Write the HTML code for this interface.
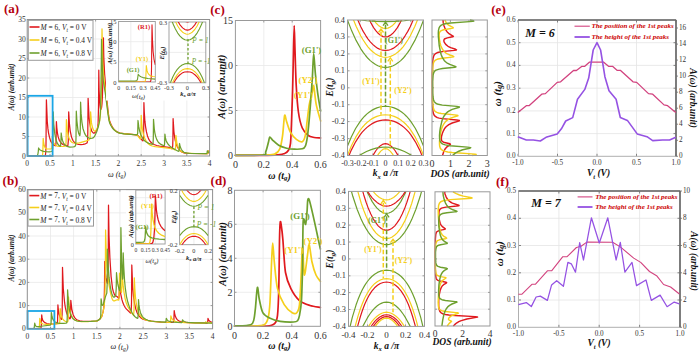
<!DOCTYPE html><html><head><meta charset="utf-8"><style>html,body{margin:0;padding:0;background:#fff;width:700px;height:355px;overflow:hidden}svg{display:block}</style></head><body>
<svg width="700" height="355" viewBox="0 0 700 355">
<rect width="700" height="355" fill="#fff"/>
<text x="11.5" y="8.5" font-family="Liberation Serif" font-size="13" font-weight="bold" font-style="normal" fill="#b5000f" text-anchor="middle" dominant-baseline="central" >(a)</text>
<line x1="50" y1="19.5" x2="50" y2="156" stroke="#e9e9e9" stroke-width="0.8" />
<line x1="72.8" y1="19.5" x2="72.8" y2="156" stroke="#e9e9e9" stroke-width="0.8" />
<line x1="95.6" y1="19.5" x2="95.6" y2="156" stroke="#e9e9e9" stroke-width="0.8" />
<line x1="118.4" y1="19.5" x2="118.4" y2="156" stroke="#e9e9e9" stroke-width="0.8" />
<line x1="141.2" y1="19.5" x2="141.2" y2="156" stroke="#e9e9e9" stroke-width="0.8" />
<line x1="164" y1="19.5" x2="164" y2="156" stroke="#e9e9e9" stroke-width="0.8" />
<line x1="186.8" y1="19.5" x2="186.8" y2="156" stroke="#e9e9e9" stroke-width="0.8" />
<line x1="27.2" y1="136.5" x2="209.6" y2="136.5" stroke="#e9e9e9" stroke-width="0.8" />
<line x1="27.2" y1="117" x2="209.6" y2="117" stroke="#e9e9e9" stroke-width="0.8" />
<line x1="27.2" y1="97.5" x2="209.6" y2="97.5" stroke="#e9e9e9" stroke-width="0.8" />
<line x1="27.2" y1="78" x2="209.6" y2="78" stroke="#e9e9e9" stroke-width="0.8" />
<line x1="27.2" y1="58.5" x2="209.6" y2="58.5" stroke="#e9e9e9" stroke-width="0.8" />
<line x1="27.2" y1="39" x2="209.6" y2="39" stroke="#e9e9e9" stroke-width="0.8" />
<line x1="50" y1="156" x2="50" y2="154" stroke="#777" stroke-width="0.7" />
<line x1="50" y1="19.5" x2="50" y2="21.5" stroke="#777" stroke-width="0.7" />
<line x1="72.8" y1="156" x2="72.8" y2="154" stroke="#777" stroke-width="0.7" />
<line x1="72.8" y1="19.5" x2="72.8" y2="21.5" stroke="#777" stroke-width="0.7" />
<line x1="95.6" y1="156" x2="95.6" y2="154" stroke="#777" stroke-width="0.7" />
<line x1="95.6" y1="19.5" x2="95.6" y2="21.5" stroke="#777" stroke-width="0.7" />
<line x1="118.4" y1="156" x2="118.4" y2="154" stroke="#777" stroke-width="0.7" />
<line x1="118.4" y1="19.5" x2="118.4" y2="21.5" stroke="#777" stroke-width="0.7" />
<line x1="141.2" y1="156" x2="141.2" y2="154" stroke="#777" stroke-width="0.7" />
<line x1="141.2" y1="19.5" x2="141.2" y2="21.5" stroke="#777" stroke-width="0.7" />
<line x1="164" y1="156" x2="164" y2="154" stroke="#777" stroke-width="0.7" />
<line x1="164" y1="19.5" x2="164" y2="21.5" stroke="#777" stroke-width="0.7" />
<line x1="186.8" y1="156" x2="186.8" y2="154" stroke="#777" stroke-width="0.7" />
<line x1="186.8" y1="19.5" x2="186.8" y2="21.5" stroke="#777" stroke-width="0.7" />
<line x1="27.2" y1="136.5" x2="29.2" y2="136.5" stroke="#777" stroke-width="0.7" />
<line x1="209.6" y1="136.5" x2="207.6" y2="136.5" stroke="#777" stroke-width="0.7" />
<line x1="27.2" y1="117" x2="29.2" y2="117" stroke="#777" stroke-width="0.7" />
<line x1="209.6" y1="117" x2="207.6" y2="117" stroke="#777" stroke-width="0.7" />
<line x1="27.2" y1="97.5" x2="29.2" y2="97.5" stroke="#777" stroke-width="0.7" />
<line x1="209.6" y1="97.5" x2="207.6" y2="97.5" stroke="#777" stroke-width="0.7" />
<line x1="27.2" y1="78" x2="29.2" y2="78" stroke="#777" stroke-width="0.7" />
<line x1="209.6" y1="78" x2="207.6" y2="78" stroke="#777" stroke-width="0.7" />
<line x1="27.2" y1="58.5" x2="29.2" y2="58.5" stroke="#777" stroke-width="0.7" />
<line x1="209.6" y1="58.5" x2="207.6" y2="58.5" stroke="#777" stroke-width="0.7" />
<line x1="27.2" y1="39" x2="29.2" y2="39" stroke="#777" stroke-width="0.7" />
<line x1="209.6" y1="39" x2="207.6" y2="39" stroke="#777" stroke-width="0.7" />
<text x="25.7" y="156" font-family="Liberation Serif" font-size="7.5" font-weight="normal" font-style="normal" fill="#333" text-anchor="end" dominant-baseline="central" >0</text>
<text x="25.7" y="136.5" font-family="Liberation Serif" font-size="7.5" font-weight="normal" font-style="normal" fill="#333" text-anchor="end" dominant-baseline="central" >5</text>
<text x="25.7" y="117" font-family="Liberation Serif" font-size="7.5" font-weight="normal" font-style="normal" fill="#333" text-anchor="end" dominant-baseline="central" >10</text>
<text x="25.7" y="97.5" font-family="Liberation Serif" font-size="7.5" font-weight="normal" font-style="normal" fill="#333" text-anchor="end" dominant-baseline="central" >15</text>
<text x="25.7" y="78" font-family="Liberation Serif" font-size="7.5" font-weight="normal" font-style="normal" fill="#333" text-anchor="end" dominant-baseline="central" >20</text>
<text x="25.7" y="58.5" font-family="Liberation Serif" font-size="7.5" font-weight="normal" font-style="normal" fill="#333" text-anchor="end" dominant-baseline="central" >25</text>
<text x="25.7" y="39" font-family="Liberation Serif" font-size="7.5" font-weight="normal" font-style="normal" fill="#333" text-anchor="end" dominant-baseline="central" >30</text>
<text x="25.7" y="19.5" font-family="Liberation Serif" font-size="7.5" font-weight="normal" font-style="normal" fill="#333" text-anchor="end" dominant-baseline="central" >35</text>
<text x="27.2" y="163.5" font-family="Liberation Serif" font-size="7.5" font-weight="normal" font-style="normal" fill="#333" text-anchor="middle" dominant-baseline="central" >0</text>
<text x="50" y="163.5" font-family="Liberation Serif" font-size="7.5" font-weight="normal" font-style="normal" fill="#333" text-anchor="middle" dominant-baseline="central" >0.5</text>
<text x="72.8" y="163.5" font-family="Liberation Serif" font-size="7.5" font-weight="normal" font-style="normal" fill="#333" text-anchor="middle" dominant-baseline="central" >1</text>
<text x="95.6" y="163.5" font-family="Liberation Serif" font-size="7.5" font-weight="normal" font-style="normal" fill="#333" text-anchor="middle" dominant-baseline="central" >1.5</text>
<text x="118.4" y="163.5" font-family="Liberation Serif" font-size="7.5" font-weight="normal" font-style="normal" fill="#333" text-anchor="middle" dominant-baseline="central" >2</text>
<text x="141.2" y="163.5" font-family="Liberation Serif" font-size="7.5" font-weight="normal" font-style="normal" fill="#333" text-anchor="middle" dominant-baseline="central" >2.5</text>
<text x="164" y="163.5" font-family="Liberation Serif" font-size="7.5" font-weight="normal" font-style="normal" fill="#333" text-anchor="middle" dominant-baseline="central" >3</text>
<text x="186.8" y="163.5" font-family="Liberation Serif" font-size="7.5" font-weight="normal" font-style="normal" fill="#333" text-anchor="middle" dominant-baseline="central" >3.5</text>
<text x="209.6" y="163.5" font-family="Liberation Serif" font-size="7.5" font-weight="normal" font-style="normal" fill="#333" text-anchor="middle" dominant-baseline="central" >4</text>
<text x="11.3" y="87" font-family="Liberation Serif" font-size="7.5" font-weight="bold" font-style="italic" fill="#111" text-anchor="middle" dominant-baseline="central" transform="rotate(-90 11.3 87)" >A(ω) (arb.unit)</text>
<text x="117" y="174" font-family="Liberation Serif" font-size="8" font-weight="normal" font-style="italic" fill="#222" text-anchor="middle" dominant-baseline="central" >ω (<tspan font-style="italic">t</tspan><tspan font-size="5.5" dy="2">g</tspan><tspan dy="-2">)</tspan></text>
<clipPath id="cp1"><rect x="27.2" y="19.5" width="182.4" height="136.5"/></clipPath>
<polyline points="27.2,156 44.6,156 45,155.8 45.4,155.3 45.8,151.8 46,144.7 46.4,99.8 47.3,121.7 47.9,128.4 48.5,132.8 49.5,137.4 50.7,141.1 52.1,143.5 54,145.2 55.2,145.8 55.6,145.6 56,143.4 56.4,121.7 56.8,127.6 57.4,132.8 58.2,136.9 59.4,140.5 60.8,142.7 62.9,144.5 64.5,145.2 66.5,145.7 67.5,145.8 67.9,145.4 68.3,141.1 68.7,111.9 69.4,123.6 70.2,130.8 71.4,136.6 72.2,138.9 73,140.5 74.2,142.2 75.4,143.2 76.9,144 78.7,144.5 80.9,144.6 83.1,144.4 85.4,143.8 87,143 87.4,141.8 87.6,139.6 87.8,133.1 88.1,98.3 89,116.6 89.6,122.3 90.4,127 91.6,130.8 92.3,131.9 93.1,132.8 93.7,133.2 94.3,133.1 95.1,132.5 95.9,131.4 96.9,129.6 97.5,128 98.1,123.4 98.5,107.4 98.8,70.2 99.1,89.8 99.6,100 100,105.4 100.4,108.2 100.6,109 100.8,109.4 101,109.4 101.6,107.4 102,103.8 102.4,96.7 102.8,82.8 103.4,37.8 103.8,57.3 104.6,73.9 106.2,93.4 108.1,111.4 108.9,117.5 109.7,121.3 111.7,125.9 112.9,127.9 114.3,129.6 115.8,131 117.2,131.9 118.6,132.6 120.2,133.1 123.9,133.7 134.2,134.6 137,135.1 138.5,136.1 142.5,140.6 142.9,140.9 143.1,140.8 143.5,137.4 143.7,128.9 143.9,102.6 144.3,112.4 144.9,121.2 145.6,126.8 146.4,131.7 147.4,135.7 148.6,138.9 150.2,141.5 152,143.3 154.1,144.5 156.7,145.5 159.5,146.1 168.7,147.4 170.1,147.9 171.9,148.8 172.3,148.7 172.7,146 172.9,139.3 173.1,118.6 173.9,131.2 174.5,136.3 175.3,140.8 176.4,144.4 177.4,146.9 178.6,148.8 180.2,150.7 181.8,151.9 183.7,152.8 185.7,153.1 188.9,153.4 207.4,153.6 207.8,153.4 208,153 208.2,150.9 208.8,151.8 209.6,152.4" fill="none" stroke="#e0191e" stroke-width="1.25" stroke-linejoin="round" clip-path="url(#cp1)"/>
<polyline points="27.2,156 41,156 42.2,155.6 42.6,154.8 42.8,153 43.2,138.4 43.6,142.5 44.4,146.1 45.4,148.1 46.7,148.9 47.9,149 50.9,148.8 51.5,148.6 51.7,148.2 52.1,143.4 52.3,136.5 52.7,139.6 53.5,142.5 54.4,144 55.6,145.3 57.2,146.1 59.2,146.5 63.3,146.3 65.1,146.1 65.5,145.9 65.9,144.4 66.1,141.1 66.4,119.7 67.3,130.7 68.5,136.7 69.6,139.4 70.6,141 71.8,142.2 73.4,143 76,143.3 79.3,142.8 86.4,140.8 88.8,139.9 89.6,139.4 90,138 90.2,135.3 90.6,111.9 91.4,122.4 92.1,126 92.9,128.8 93.7,130.4 94.1,130.8 94.7,131.1 95.7,130.7 96.9,129.3 98.3,125.6 99.6,120.9 100.4,114.9 100.8,108.7 101.2,97.1 101.6,74.5 102,28.9 102.8,61.8 103.4,72.1 104.2,80.4 107.9,111.5 109.1,119.8 109.7,122.2 110.7,124.5 112.1,127 113.7,129.2 115.2,130.6 116.6,131.7 118.2,132.5 119.8,133.1 123.9,133.7 134,134.6 136.8,135 137.9,135.8 140.1,138.9 140.5,139 140.9,135.4 141.2,115.4 141.7,123 142.3,128.4 143.1,133 143.9,136.1 145.2,139.4 146.4,141.5 148.2,143.7 150,145.1 152.2,146 155.1,146.7 169.9,148.4 173.3,149 174.7,149.8 175.1,149.8 175.6,147.5 175.9,135.3 176.8,142.6 178,147.2 178.8,149 179.6,150.2 181.6,151.7 183.7,152.5 186.3,153 195,153.5 207.4,153.6 207.8,153.4 208,153 208.2,150.9 208.8,151.8 209.6,152.4" fill="none" stroke="#f5cf1b" stroke-width="1.25" stroke-linejoin="round" clip-path="url(#cp1)"/>
<polyline points="27.2,156 36.1,156 36.9,155.8 37.5,155.1 37.9,154.1 38.3,151.5 38.6,148 39.2,149.2 39.8,149.8 41.6,150.7 43.4,151.3 46.3,151.7 49.1,151.8 51.7,151.5 52.3,151.1 52.7,148.1 52.9,141.5 53.2,111.9 53.7,123.7 54.8,133.9 56,139.8 56.8,142.1 57.8,144 58.8,145.3 59.8,146.1 60.4,146.2 60.6,145.8 61,139.8 61.2,133 61.7,136.9 62.5,140.5 63.7,143.4 65.1,145.1 67.1,146.4 69.8,147.1 73,147 74.4,146.6 75.2,146.1 75.6,145.2 75.8,143.3 76,137.9 76.3,111.2 76.9,121.1 77.9,129.8 78.7,133.3 79.5,135.4 79.7,135.6 79.9,135.3 80.1,133.7 80.3,128.2 80.6,102.2 81.1,113.4 81.9,122.1 82.9,128.2 84.4,132.9 85.4,134.9 86.4,136.3 87.6,137.4 88.8,138 90.4,138.3 92.3,138.1 93.5,137.6 94.5,136.4 96.7,131.8 98.3,126.8 99.6,120.8 100.2,114.5 100.6,106.3 101,90.3 101.5,39.4 102.2,65.4 102.8,75.7 103.4,81.5 105.4,93.9 108.1,114.7 109.1,120.9 109.7,123.1 110.7,125.2 112.1,127.5 113.7,129.5 115.2,130.8 116.6,131.8 118.2,132.6 119.8,133.1 124.1,133.8 137.2,134.9 137.7,133.3 138,120.5 138.7,126.4 139.5,130.5 140.7,134.5 142.3,137.7 144.1,140.3 145.8,141.8 148.8,143.4 152.4,144.4 152.9,143.8 153.1,142.5 153.3,138.3 153.5,119.3 154.3,129 154.9,133.1 155.7,136.6 156.7,139.4 157.7,141.3 159.1,143 161,144.4 163.8,145.7 164.2,145.6 164.4,145.2 164.6,143.8 164.9,134.2 165.4,137.7 166,140.2 166.8,142.2 168.1,144.2 169.7,145.9 171.7,147.4 174.9,149.5 178.2,151.2 178.8,151.3 179.2,150.1 179.5,143.5 180.2,146.8 181.4,149.6 183.1,151.6 183.9,152.2 184.9,152.7 187.5,153.2 191.2,153.5 206.4,153.6 207,153.3 207.3,150.9 208.2,152 209.6,152.8" fill="none" stroke="#6ea02e" stroke-width="1.25" stroke-linejoin="round" clip-path="url(#cp1)"/>
<rect x="27.6" y="95.8" width="25" height="60.2" stroke="#1aa6e6" fill="none" stroke-width="1.8"/>
<rect x="106" y="19.5" width="103" height="81" fill="#fff"/>
<line x1="106" y1="19.5" x2="209.6" y2="19.5" stroke="#c8c8c8" stroke-width="1" />
<rect x="28.3" y="20.3" width="64.7" height="40" stroke="#9a9a9a" fill="#fff" stroke-width="1"/>
<line x1="29.5" y1="27" x2="39.5" y2="27" stroke="#e0191e" stroke-width="1.6" />
<text x="40.5" y="27" font-family="Liberation Serif" font-size="7.4" fill="#222" dominant-baseline="central"><tspan font-style="italic">M</tspan> = 6, <tspan font-style="italic">V</tspan><tspan font-style="italic" font-size="5.18" dy="3">t</tspan><tspan dy="-3"> = 0 V</tspan></text>
<line x1="29.5" y1="40" x2="39.5" y2="40" stroke="#f5cf1b" stroke-width="1.6" />
<text x="40.5" y="40" font-family="Liberation Serif" font-size="7.4" fill="#222" dominant-baseline="central"><tspan font-style="italic">M</tspan> = 6, <tspan font-style="italic">V</tspan><tspan font-style="italic" font-size="5.18" dy="3">t</tspan><tspan dy="-3"> = 0.4 V</tspan></text>
<line x1="29.5" y1="53" x2="39.5" y2="53" stroke="#6ea02e" stroke-width="1.6" />
<text x="40.5" y="53" font-family="Liberation Serif" font-size="7.4" fill="#222" dominant-baseline="central"><tspan font-style="italic">M</tspan> = 6, <tspan font-style="italic">V</tspan><tspan font-style="italic" font-size="5.18" dy="3">t</tspan><tspan dy="-3"> = 0.8 V</tspan></text>
<rect x="27.2" y="19.5" width="182.4" height="136.5" stroke="#8f8f8f" fill="none" stroke-width="1"/>
<line x1="130.8" y1="21.5" x2="130.8" y2="82" stroke="#e9e9e9" stroke-width="0.8" />
<line x1="143.1" y1="21.5" x2="143.1" y2="82" stroke="#e9e9e9" stroke-width="0.8" />
<line x1="118.6" y1="61.8" x2="155.3" y2="61.8" stroke="#e9e9e9" stroke-width="0.8" />
<line x1="118.6" y1="41.7" x2="155.3" y2="41.7" stroke="#e9e9e9" stroke-width="0.8" />
<rect x="118.6" y="21.5" width="36.7" height="60.5" stroke="#999" fill="none" stroke-width="0.9"/>
<text x="116.6" y="82" font-family="Liberation Serif" font-size="6.5" font-weight="normal" font-style="normal" fill="#333" text-anchor="end" dominant-baseline="central" >0</text>
<text x="116.6" y="61.8" font-family="Liberation Serif" font-size="6.5" font-weight="normal" font-style="normal" fill="#333" text-anchor="end" dominant-baseline="central" >5</text>
<text x="116.6" y="41.7" font-family="Liberation Serif" font-size="6.5" font-weight="normal" font-style="normal" fill="#333" text-anchor="end" dominant-baseline="central" >10</text>
<text x="116.6" y="21.5" font-family="Liberation Serif" font-size="6.5" font-weight="normal" font-style="normal" fill="#333" text-anchor="end" dominant-baseline="central" >15</text>
<text x="118.6" y="87.5" font-family="Liberation Serif" font-size="5.8" font-weight="normal" font-style="normal" fill="#333" text-anchor="middle" dominant-baseline="central" >0</text>
<text x="130.8" y="87.5" font-family="Liberation Serif" font-size="5.8" font-weight="normal" font-style="normal" fill="#333" text-anchor="middle" dominant-baseline="central" >0.15</text>
<text x="143.1" y="87.5" font-family="Liberation Serif" font-size="5.8" font-weight="normal" font-style="normal" fill="#333" text-anchor="middle" dominant-baseline="central" >0.3</text>
<text x="155.3" y="87.5" font-family="Liberation Serif" font-size="5.8" font-weight="normal" font-style="normal" fill="#333" text-anchor="middle" dominant-baseline="central" >0.45</text>
<text x="109.8" y="43.5" font-family="Liberation Serif" font-size="6.6" font-weight="bold" font-style="italic" fill="#111" text-anchor="middle" dominant-baseline="central" transform="rotate(-90 109.8 43.5)" >A(ω) (arb.unit)</text>
<text x="138.5" y="95.5" font-family="Liberation Serif" font-size="6.5" font-weight="normal" font-style="italic" fill="#222" text-anchor="middle" dominant-baseline="central" >ω(<tspan>t</tspan><tspan font-size="4.5" dy="1.5">g</tspan><tspan dy="-1.5">)</tspan></text>
<clipPath id="cp2"><rect x="118.6" y="21.5" width="36.7" height="60.5"/></clipPath>
<polyline points="118.6,82 149.1,82 150.1,81.9 150.5,81.4 150.9,80.3 151.2,78 151.5,69.6 152,24.7 152.5,40 153.1,51.3 154,59.3 155.3,64.9" fill="none" stroke="#e0191e" stroke-width="1.1" stroke-linejoin="round" clip-path="url(#cp2)"/>
<polyline points="118.6,82 142.9,82 144.6,81.7 145,81.3 145.3,80.6 145.8,77.8 146.3,65.5 147.1,70.9 147.8,72.8 148.6,74.2 149.7,75.2 151.1,76 152.9,76.5 155.3,76.7" fill="none" stroke="#f5cf1b" stroke-width="1.1" stroke-linejoin="round" clip-path="url(#cp2)"/>
<polyline points="118.6,81 134.7,81 136.4,80.8 137,80.3 137.5,79.3 138.2,74.3 139,75.4 140.1,76.3 141.4,77 143.1,77.6 148,78.5 155.3,79.1" fill="none" stroke="#6ea02e" stroke-width="1.1" stroke-linejoin="round" clip-path="url(#cp2)"/>
<text x="144" y="26" font-family="Liberation Serif" font-size="6.5" font-weight="bold" font-style="normal" fill="#e0191e" text-anchor="middle" dominant-baseline="central" >(R1)</text>
<text x="142" y="58" font-family="Liberation Serif" font-size="6.5" font-weight="bold" font-style="normal" fill="#f5cf1b" text-anchor="middle" dominant-baseline="central" >(Y1)</text>
<text x="133" y="69" font-family="Liberation Serif" font-size="6.5" font-weight="bold" font-style="normal" fill="#6ea02e" text-anchor="middle" dominant-baseline="central" >(G1)</text>
<line x1="187.4" y1="22" x2="187.4" y2="82.8" stroke="#e9e9e9" stroke-width="0.8" />
<line x1="169" y1="52.4" x2="205.8" y2="52.4" stroke="#e9e9e9" stroke-width="0.8" />
<rect x="169" y="22" width="36.8" height="60.8" stroke="#999" fill="none" stroke-width="0.9"/>
<text x="167" y="22" font-family="Liberation Serif" font-size="6.2" font-weight="normal" font-style="normal" fill="#333" text-anchor="end" dominant-baseline="central" >0.3</text>
<text x="167" y="52.4" font-family="Liberation Serif" font-size="6.2" font-weight="normal" font-style="normal" fill="#333" text-anchor="end" dominant-baseline="central" >0</text>
<text x="167" y="82.8" font-family="Liberation Serif" font-size="6.2" font-weight="normal" font-style="normal" fill="#333" text-anchor="end" dominant-baseline="central" >-0.3</text>
<text x="169" y="87.8" font-family="Liberation Serif" font-size="6.2" font-weight="normal" font-style="normal" fill="#333" text-anchor="middle" dominant-baseline="central" >-0.3</text>
<text x="187.4" y="87.8" font-family="Liberation Serif" font-size="6.2" font-weight="normal" font-style="normal" fill="#333" text-anchor="middle" dominant-baseline="central" >0</text>
<text x="205.8" y="87.8" font-family="Liberation Serif" font-size="6.2" font-weight="normal" font-style="normal" fill="#333" text-anchor="middle" dominant-baseline="central" >0.3</text>
<text x="161.8" y="53" font-family="Liberation Serif" font-size="6.5" font-weight="bold" font-style="italic" fill="#111" text-anchor="middle" dominant-baseline="central" transform="rotate(-90 161.8 53)" >E(<tspan>t</tspan><tspan font-size="4.5" dy="1.5">g</tspan><tspan dy="-1.5">)</tspan></text>
<text x="188" y="93" font-family="Liberation Serif" font-size="6.5" font-weight="bold" font-style="italic" fill="#222" text-anchor="middle" dominant-baseline="central" >k<tspan font-size="4.5" dy="1.5">x</tspan><tspan dy="-1.5"> a/π</tspan></text>
<clipPath id="cp3"><rect x="169" y="22" width="36.8" height="60.8"/></clipPath>
<polyline points="169,12 171.1,18.5 173.1,24.1 175.4,29.1 177.7,33.1 180,36.2 182.6,38.5 184.9,39.8 187.4,40.2 189.9,39.8 192.2,38.5 194.8,36.2 197.1,33.1 199.4,29.1 201.7,24.1 203.7,18.5 205.8,12" fill="none" stroke="#6ea02e" stroke-width="1.1" stroke-linejoin="round" clip-path="url(#cp3)"/>
<polyline points="169,1.8 171.1,9.3 173.1,15.6 175.4,21.4 177.7,26 180,29.5 182.6,32.2 184.9,33.6 186,34 187.4,34.2 188.8,34 189.9,33.6 192.2,32.2 194.8,29.5 197.1,26 199.4,21.4 201.7,15.6 203.7,9.3 205.8,1.8" fill="none" stroke="#f5cf1b" stroke-width="1.1" stroke-linejoin="round" clip-path="url(#cp3)"/>
<polyline points="169,-5.9 171.1,2.5 173.1,9.5 175.4,16 177.7,21 180,24.9 182.6,27.9 184.9,29.5 186,29.9 187.4,30.1 188.8,29.9 189.9,29.5 192.2,27.9 194.8,24.9 197.1,21 199.4,16 201.7,9.5 203.7,2.5 205.8,-5.9" fill="none" stroke="#e0191e" stroke-width="1.1" stroke-linejoin="round" clip-path="url(#cp3)"/>
<polyline points="169,-35.5 171.3,-22 173.6,-10.3 175.9,-0.4 178.2,7.6 180.5,13.9 182.8,18.4 184,20 185.1,21.1 186.2,21.8 187.4,22 188.6,21.8 189.7,21.1 190.9,20 192,18.4 194.3,13.9 196.6,7.6 198.9,-0.4 201.2,-10.3 203.5,-22 205.8,-35.5" fill="none" stroke="#e0191e" stroke-width="1.1" stroke-linejoin="round" clip-path="url(#cp3)"/>
<polyline points="169,-35.7 171.3,-23.3 173.6,-12.7 175.9,-3.6 178.2,3.8 180.5,9.5 182.8,13.6 184,15.1 185.1,16.1 186.2,16.7 187.4,16.9 188.6,16.7 189.7,16.1 190.9,15.1 192,13.6 194.3,9.5 196.6,3.8 198.9,-3.6 201.2,-12.7 203.5,-23.3 205.8,-35.7" fill="none" stroke="#f5cf1b" stroke-width="1.1" stroke-linejoin="round" clip-path="url(#cp3)"/>
<polyline points="169,10.3 173.6,11.4 178.2,12.2 182.8,12.7 187.4,12.9 192,12.7 196.6,12.2 201.2,11.4 205.8,10.3" fill="none" stroke="#6ea02e" stroke-width="1.1" stroke-linejoin="round" clip-path="url(#cp3)"/>
<polyline points="169,87.3 170.8,81.8 172.9,76.8 175,72.8 177.3,69.4 179.6,66.9 182.1,65 184.6,63.9 187.4,63.5 190.2,63.9 192.7,65 195.2,66.9 197.5,69.4 199.8,72.8 201.9,76.8 204,81.8 205.8,87.3" fill="none" stroke="#6ea02e" stroke-width="1.1" stroke-linejoin="round" clip-path="url(#cp3)"/>
<polyline points="169,92.8 170.8,87.2 172.9,82.1 175,78.1 177.3,74.6 179.6,72 182.1,70.1 184.6,69 187.4,68.6 190.2,69 192.7,70.1 195.2,72 197.5,74.6 199.8,78.1 201.9,82.1 204,87.2 205.8,92.8" fill="none" stroke="#f5cf1b" stroke-width="1.1" stroke-linejoin="round" clip-path="url(#cp3)"/>
<polyline points="169,95.1 170.8,89.7 172.9,84.7 175,80.8 177.3,77.4 179.6,75 182.1,73.1 184.6,72 187.4,71.7 190.2,72 192.7,73.1 195.2,75 197.5,77.4 199.8,80.8 201.9,84.7 204,89.7 205.8,95.1" fill="none" stroke="#e0191e" stroke-width="1.1" stroke-linejoin="round" clip-path="url(#cp3)"/>
<polyline points="169,151.9 171.3,136.4 173.6,123 175.9,111.7 178.2,102.4 180.5,95.1 182.8,90 184,88.2 185.1,86.9 186.2,86.1 187.4,85.8 188.6,86.1 189.7,86.9 190.9,88.2 192,90 194.3,95.1 196.6,102.4 198.9,111.7 201.2,123 203.5,136.4 205.8,151.9" fill="none" stroke="#e0191e" stroke-width="1.1" stroke-linejoin="round" clip-path="url(#cp3)"/>
<polyline points="169,98.6 173.6,93.9 175.9,92.1 178.2,90.6 180.5,89.4 182.8,88.5 185.1,88 187.4,87.9 189.7,88 192,88.5 194.3,89.4 196.6,90.6 198.9,92.1 201.2,93.9 205.8,98.6" fill="none" stroke="#6ea02e" stroke-width="1.1" stroke-linejoin="round" clip-path="url(#cp3)"/>
<polyline points="169,181 171.3,159.4 173.6,140.7 175.9,124.8 178.2,111.9 180.5,101.8 182.8,94.6 184,92.1 185.1,90.3 186.2,89.2 187.4,88.9 188.6,89.2 189.7,90.3 190.9,92.1 192,94.6 194.3,101.8 196.6,111.9 198.9,124.8 201.2,140.7 203.5,159.4 205.8,181" fill="none" stroke="#f5cf1b" stroke-width="1.1" stroke-linejoin="round" clip-path="url(#cp3)"/>
<line x1="188" y1="39" x2="188" y2="66" stroke="#6ea02e" stroke-width="1.3" stroke-dasharray="2.5,2"/>
<text x="200.5" y="40.5" font-family="Liberation Serif" font-size="7.2" font-weight="normal" font-style="italic" fill="#6ea02e" text-anchor="middle" dominant-baseline="central" >P = 1</text>
<text x="201" y="61.5" font-family="Liberation Serif" font-size="7.2" font-weight="normal" font-style="italic" fill="#6ea02e" text-anchor="middle" dominant-baseline="central" >P = -1</text>
<text x="217.5" y="9.5" font-family="Liberation Serif" font-size="13" font-weight="bold" font-style="normal" fill="#b5000f" text-anchor="middle" dominant-baseline="central" >(c)</text>
<line x1="263.8" y1="20.5" x2="263.8" y2="155.5" stroke="#e9e9e9" stroke-width="0.8" />
<line x1="292.2" y1="20.5" x2="292.2" y2="155.5" stroke="#e9e9e9" stroke-width="0.8" />
<line x1="235.4" y1="110.5" x2="320.6" y2="110.5" stroke="#e9e9e9" stroke-width="0.8" />
<line x1="235.4" y1="65.5" x2="320.6" y2="65.5" stroke="#e9e9e9" stroke-width="0.8" />
<line x1="263.8" y1="155.5" x2="263.8" y2="153.5" stroke="#777" stroke-width="0.7" />
<line x1="263.8" y1="20.5" x2="263.8" y2="22.5" stroke="#777" stroke-width="0.7" />
<line x1="292.2" y1="155.5" x2="292.2" y2="153.5" stroke="#777" stroke-width="0.7" />
<line x1="292.2" y1="20.5" x2="292.2" y2="22.5" stroke="#777" stroke-width="0.7" />
<line x1="235.4" y1="110.5" x2="237.4" y2="110.5" stroke="#777" stroke-width="0.7" />
<line x1="320.6" y1="110.5" x2="318.6" y2="110.5" stroke="#777" stroke-width="0.7" />
<line x1="235.4" y1="65.5" x2="237.4" y2="65.5" stroke="#777" stroke-width="0.7" />
<line x1="320.6" y1="65.5" x2="318.6" y2="65.5" stroke="#777" stroke-width="0.7" />
<text x="232.9" y="155.5" font-family="Liberation Serif" font-size="10" font-weight="normal" font-style="normal" fill="#333" text-anchor="end" dominant-baseline="central" >0</text>
<text x="232.9" y="110.5" font-family="Liberation Serif" font-size="10" font-weight="normal" font-style="normal" fill="#333" text-anchor="end" dominant-baseline="central" >5</text>
<text x="232.9" y="65.5" font-family="Liberation Serif" font-size="10" font-weight="normal" font-style="normal" fill="#333" text-anchor="end" dominant-baseline="central" >10</text>
<text x="232.9" y="20.5" font-family="Liberation Serif" font-size="10" font-weight="normal" font-style="normal" fill="#333" text-anchor="end" dominant-baseline="central" >15</text>
<text x="235.4" y="164.2" font-family="Liberation Serif" font-size="10" font-weight="normal" font-style="normal" fill="#333" text-anchor="middle" dominant-baseline="central" >0</text>
<text x="263.8" y="164.2" font-family="Liberation Serif" font-size="10" font-weight="normal" font-style="normal" fill="#333" text-anchor="middle" dominant-baseline="central" >0.2</text>
<text x="292.2" y="164.2" font-family="Liberation Serif" font-size="10" font-weight="normal" font-style="normal" fill="#333" text-anchor="middle" dominant-baseline="central" >0.4</text>
<text x="320.6" y="164.2" font-family="Liberation Serif" font-size="10" font-weight="normal" font-style="normal" fill="#333" text-anchor="middle" dominant-baseline="central" >0.6</text>
<text x="222" y="86.7" font-family="Liberation Serif" font-size="10.2" font-weight="bold" font-style="italic" fill="#111" text-anchor="middle" dominant-baseline="central" transform="rotate(-90 222 86.7)" >A(ω) (arb.unit)</text>
<text x="279.5" y="175.5" font-family="Liberation Serif" font-size="10" font-weight="bold" font-style="italic" fill="#111" text-anchor="middle" dominant-baseline="central" >ω (t<tspan font-size="7" dy="2.5">g</tspan><tspan dy="-2.5">)</tspan></text>
<clipPath id="cp4"><rect x="235.4" y="20.5" width="85.2" height="135"/></clipPath>
<path d="M235.4,155.3 C241.3,155.3 267.3,155.4 274.7,155.1 C282.1,154.8 282.5,154.2 284.6,153.5 C286.7,152.8 287.6,151.7 288.5,150.2 C289.4,148.7 290,147.8 290.5,143.3 C291,138.8 291.3,128 291.6,120 C291.9,112 292.3,100.5 292.6,90 C292.9,79.5 293.3,59.7 293.5,50 C293.7,40.3 294,25.6 294.2,25.6 C294.4,25.6 294.7,41.1 295,50 C295.3,58.9 295.7,75.7 296.2,85 C296.7,94.3 297.5,105.5 298.4,112 C299.3,118.5 300.8,124.5 302.3,128 C303.8,131.5 306.5,134.1 308.3,135.5 C310.1,136.9 312.4,137.1 314.2,137.5 C316,137.9 319.6,137.9 320.6,138" fill="none" stroke="#e0191e" stroke-width="1.7" stroke-linejoin="round" stroke-linecap="round" />
<path d="M235.4,155.3 C239.8,155.3 259,155.3 264.9,155.1 C270.8,154.9 272.5,155 274.7,154.1 C276.9,153.2 278.5,152 279.7,149.2 C280.9,146.4 281.9,140.5 282.6,135.4 C283.3,130.3 284,117.6 284.6,115.5 C285.2,113.4 285.7,119.1 286.6,121.6 C287.5,124.1 289,129.7 290.5,132.4 C292,135.1 294.6,137.9 296.4,139.3 C298.2,140.7 301,142.3 302.3,141.7 C303.6,141.1 304.6,138.7 305.3,135.4 C306.1,132.1 306.7,124.2 307.3,119.6 C307.9,115 308.6,108.2 309.2,104.8 C309.8,101.4 310.5,98.9 311,97 C311.5,95.1 311.9,93.7 312.3,92 C312.7,90.3 313.1,84 313.7,85.8 C314.3,87.6 315.1,98.5 316.1,103.8 C317.1,109.1 319.9,118.4 320.6,121" fill="none" stroke="#f5cf1b" stroke-width="1.7" stroke-linejoin="round" stroke-linecap="round" />
<path d="M235.4,155.3 C239.5,155.3 258.3,155.6 262.9,155 C267.5,154.4 265,153.5 265.8,151.6 C266.6,149.7 267.9,144.2 268.5,142 C269.1,139.8 269.2,137.3 269.8,137 C270.4,136.7 271.5,139.1 272.8,140.3 C274.1,141.5 276.6,144 278.7,145.2 C280.8,146.4 284.2,147.6 286.6,148.2 C289,148.8 292,149.1 294.4,149.2 C296.8,149.3 300.7,149.2 302.3,148.8 C303.9,148.4 304.6,147.9 305.3,146.2 C306.1,144.5 306.7,141.3 307.3,137.3 C307.9,133.3 308.7,125.2 309.2,119.6 C309.7,114 310.3,106.7 310.8,100 C311.3,93.3 312.1,82 312.5,75 C312.9,68 313.2,53.6 313.7,53.6 C314.1,53.6 314.8,68.7 315.5,75 C316.2,81.3 317.3,90.5 318.1,95.9 C318.9,101.3 320.2,108.7 320.6,111" fill="none" stroke="#6ea02e" stroke-width="1.7" stroke-linejoin="round" stroke-linecap="round" />
<rect x="235.4" y="20.5" width="85.2" height="135" stroke="#999" fill="none" stroke-width="1"/>
<text x="311.5" y="49.5" font-family="Liberation Serif" font-size="8.8" font-weight="bold" font-style="normal" fill="#6ea02e" text-anchor="middle" dominant-baseline="central" >(G1')</text>
<text x="308" y="79.5" font-family="Liberation Serif" font-size="8.8" font-weight="bold" font-style="normal" fill="#f5cf1b" text-anchor="middle" dominant-baseline="central" >(Y2')</text>
<text x="303.5" y="95" font-family="Liberation Serif" font-size="8.8" font-weight="bold" font-style="normal" fill="#f5cf1b" text-anchor="middle" dominant-baseline="central" >(Y1')</text>
<line x1="360.2" y1="20" x2="360.2" y2="155.5" stroke="#e9e9e9" stroke-width="0.8" />
<line x1="372.8" y1="20" x2="372.8" y2="155.5" stroke="#e9e9e9" stroke-width="0.8" />
<line x1="385.5" y1="20" x2="385.5" y2="155.5" stroke="#e9e9e9" stroke-width="0.8" />
<line x1="398.2" y1="20" x2="398.2" y2="155.5" stroke="#e9e9e9" stroke-width="0.8" />
<line x1="410.8" y1="20" x2="410.8" y2="155.5" stroke="#e9e9e9" stroke-width="0.8" />
<line x1="347.5" y1="138.6" x2="423.5" y2="138.6" stroke="#e9e9e9" stroke-width="0.8" />
<line x1="347.5" y1="121.6" x2="423.5" y2="121.6" stroke="#e9e9e9" stroke-width="0.8" />
<line x1="347.5" y1="104.7" x2="423.5" y2="104.7" stroke="#e9e9e9" stroke-width="0.8" />
<line x1="347.5" y1="87.8" x2="423.5" y2="87.8" stroke="#e9e9e9" stroke-width="0.8" />
<line x1="347.5" y1="70.8" x2="423.5" y2="70.8" stroke="#e9e9e9" stroke-width="0.8" />
<line x1="347.5" y1="53.9" x2="423.5" y2="53.9" stroke="#e9e9e9" stroke-width="0.8" />
<line x1="347.5" y1="36.9" x2="423.5" y2="36.9" stroke="#e9e9e9" stroke-width="0.8" />
<line x1="360.2" y1="155.5" x2="360.2" y2="153.5" stroke="#777" stroke-width="0.7" />
<line x1="360.2" y1="20" x2="360.2" y2="22" stroke="#777" stroke-width="0.7" />
<line x1="372.8" y1="155.5" x2="372.8" y2="153.5" stroke="#777" stroke-width="0.7" />
<line x1="372.8" y1="20" x2="372.8" y2="22" stroke="#777" stroke-width="0.7" />
<line x1="385.5" y1="155.5" x2="385.5" y2="153.5" stroke="#777" stroke-width="0.7" />
<line x1="385.5" y1="20" x2="385.5" y2="22" stroke="#777" stroke-width="0.7" />
<line x1="398.2" y1="155.5" x2="398.2" y2="153.5" stroke="#777" stroke-width="0.7" />
<line x1="398.2" y1="20" x2="398.2" y2="22" stroke="#777" stroke-width="0.7" />
<line x1="410.8" y1="155.5" x2="410.8" y2="153.5" stroke="#777" stroke-width="0.7" />
<line x1="410.8" y1="20" x2="410.8" y2="22" stroke="#777" stroke-width="0.7" />
<line x1="347.5" y1="138.6" x2="349.5" y2="138.6" stroke="#777" stroke-width="0.7" />
<line x1="423.5" y1="138.6" x2="421.5" y2="138.6" stroke="#777" stroke-width="0.7" />
<line x1="347.5" y1="121.6" x2="349.5" y2="121.6" stroke="#777" stroke-width="0.7" />
<line x1="423.5" y1="121.6" x2="421.5" y2="121.6" stroke="#777" stroke-width="0.7" />
<line x1="347.5" y1="104.7" x2="349.5" y2="104.7" stroke="#777" stroke-width="0.7" />
<line x1="423.5" y1="104.7" x2="421.5" y2="104.7" stroke="#777" stroke-width="0.7" />
<line x1="347.5" y1="87.8" x2="349.5" y2="87.8" stroke="#777" stroke-width="0.7" />
<line x1="423.5" y1="87.8" x2="421.5" y2="87.8" stroke="#777" stroke-width="0.7" />
<line x1="347.5" y1="70.8" x2="349.5" y2="70.8" stroke="#777" stroke-width="0.7" />
<line x1="423.5" y1="70.8" x2="421.5" y2="70.8" stroke="#777" stroke-width="0.7" />
<line x1="347.5" y1="53.9" x2="349.5" y2="53.9" stroke="#777" stroke-width="0.7" />
<line x1="423.5" y1="53.9" x2="421.5" y2="53.9" stroke="#777" stroke-width="0.7" />
<line x1="347.5" y1="36.9" x2="349.5" y2="36.9" stroke="#777" stroke-width="0.7" />
<line x1="423.5" y1="36.9" x2="421.5" y2="36.9" stroke="#777" stroke-width="0.7" />
<text x="345" y="155.5" font-family="Liberation Serif" font-size="8.3" font-weight="normal" font-style="normal" fill="#333" text-anchor="end" dominant-baseline="central" >-0.4</text>
<text x="345" y="138.6" font-family="Liberation Serif" font-size="8.3" font-weight="normal" font-style="normal" fill="#333" text-anchor="end" dominant-baseline="central" >-0.3</text>
<text x="345" y="121.6" font-family="Liberation Serif" font-size="8.3" font-weight="normal" font-style="normal" fill="#333" text-anchor="end" dominant-baseline="central" >-0.2</text>
<text x="345" y="104.7" font-family="Liberation Serif" font-size="8.3" font-weight="normal" font-style="normal" fill="#333" text-anchor="end" dominant-baseline="central" >-0.1</text>
<text x="345" y="87.8" font-family="Liberation Serif" font-size="8.3" font-weight="normal" font-style="normal" fill="#333" text-anchor="end" dominant-baseline="central" >0</text>
<text x="345" y="70.8" font-family="Liberation Serif" font-size="8.3" font-weight="normal" font-style="normal" fill="#333" text-anchor="end" dominant-baseline="central" >0.1</text>
<text x="345" y="53.9" font-family="Liberation Serif" font-size="8.3" font-weight="normal" font-style="normal" fill="#333" text-anchor="end" dominant-baseline="central" >0.2</text>
<text x="345" y="36.9" font-family="Liberation Serif" font-size="8.3" font-weight="normal" font-style="normal" fill="#333" text-anchor="end" dominant-baseline="central" >0.3</text>
<text x="345" y="20" font-family="Liberation Serif" font-size="8.3" font-weight="normal" font-style="normal" fill="#333" text-anchor="end" dominant-baseline="central" >0.4</text>
<text x="347.5" y="163.8" font-family="Liberation Serif" font-size="8" font-weight="normal" font-style="normal" fill="#333" text-anchor="middle" dominant-baseline="central" >-0.3</text>
<text x="360.2" y="163.8" font-family="Liberation Serif" font-size="8" font-weight="normal" font-style="normal" fill="#333" text-anchor="middle" dominant-baseline="central" >-0.2</text>
<text x="372.8" y="163.8" font-family="Liberation Serif" font-size="8" font-weight="normal" font-style="normal" fill="#333" text-anchor="middle" dominant-baseline="central" >-0.1</text>
<text x="385.5" y="163.8" font-family="Liberation Serif" font-size="8" font-weight="normal" font-style="normal" fill="#333" text-anchor="middle" dominant-baseline="central" >0</text>
<text x="398.2" y="163.8" font-family="Liberation Serif" font-size="8" font-weight="normal" font-style="normal" fill="#333" text-anchor="middle" dominant-baseline="central" >0.1</text>
<text x="410.8" y="163.8" font-family="Liberation Serif" font-size="8" font-weight="normal" font-style="normal" fill="#333" text-anchor="middle" dominant-baseline="central" >0.2</text>
<text x="423.5" y="163.8" font-family="Liberation Serif" font-size="8" font-weight="normal" font-style="normal" fill="#333" text-anchor="middle" dominant-baseline="central" >0.3</text>
<text x="330" y="87" font-family="Liberation Serif" font-size="9.5" font-weight="bold" font-style="italic" fill="#111" text-anchor="middle" dominant-baseline="central" transform="rotate(-90 330 87)" >E(t<tspan font-size="7" dy="2.5">g</tspan><tspan dy="-2.5">)</tspan></text>
<text x="385.5" y="173" font-family="Liberation Serif" font-size="9.5" font-weight="bold" font-style="italic" fill="#111" text-anchor="middle" dominant-baseline="central" >k<tspan font-size="6.5" dy="2.5">x</tspan><tspan dy="-2.5"> a /π</tspan></text>
<clipPath id="cp5"><rect x="347.5" y="20" width="76" height="135.5"/></clipPath>
<polyline points="347.5,20.2 351.8,31.1 356.1,40.4 360.8,48.8 363.2,52.4 365.6,55.5 367.9,58.3 370.3,60.6 372.7,62.6 375.5,64.5 377.9,65.8 380.3,66.6 382.6,67.2 385.5,67.4 388.4,67.2 390.7,66.6 393.1,65.8 395.5,64.5 398.3,62.6 400.7,60.6 403.1,58.3 405.4,55.5 407.8,52.4 410.2,48.8 414.9,40.4 419.2,31.1 423.5,20.2" fill="none" stroke="#6ea02e" stroke-width="1.2" stroke-linejoin="round" clip-path="url(#cp5)"/>
<polyline points="347.5,3.2 351.8,15.7 356.1,26.3 360.8,36 363.2,40 365.6,43.6 367.9,46.8 370.3,49.5 372.7,51.7 375.5,53.9 377.9,55.3 380.3,56.4 382.6,57 385.5,57.3 388.4,57 390.7,56.4 393.1,55.3 395.5,53.9 398.3,51.7 400.7,49.5 403.1,46.8 405.4,43.6 407.8,40 410.2,36 414.9,26.3 419.2,15.7 423.5,3.2" fill="none" stroke="#f5cf1b" stroke-width="1.2" stroke-linejoin="round" clip-path="url(#cp5)"/>
<polyline points="347.5,-9.6 351.8,4.3 356.1,16.1 360.8,26.8 363.2,31.4 365.6,35.3 367.9,38.8 370.3,41.8 372.7,44.4 375.5,46.8 377.9,48.4 380.3,49.5 382.6,50.2 385.5,50.5 388.4,50.2 390.7,49.5 393.1,48.4 395.5,46.8 398.3,44.4 400.7,41.8 403.1,38.8 405.4,35.3 407.8,31.4 410.2,26.8 414.9,16.1 419.2,4.3 423.5,-9.6" fill="none" stroke="#e0191e" stroke-width="1.2" stroke-linejoin="round" clip-path="url(#cp5)"/>
<polyline points="347.5,-59.1 352.2,-36.6 357,-17.1 361.8,-0.6 364.1,6.6 366.5,12.9 368.9,18.6 371.2,23.4 373.6,27.6 376,30.9 378.4,33.6 380.8,35.4 383.1,36.6 385.5,36.9 387.9,36.6 390.2,35.4 392.6,33.6 395,30.9 397.4,27.6 399.8,23.4 402.1,18.6 404.5,12.9 406.9,6.6 409.2,-0.6 414,-17.1 418.8,-36.6 423.5,-59.1" fill="none" stroke="#e0191e" stroke-width="1.2" stroke-linejoin="round" clip-path="url(#cp5)"/>
<polyline points="347.5,-59.5 352.2,-38.9 357,-21 361.8,-5.9 364.1,0.6 366.5,6.5 368.9,11.6 371.2,16.1 373.6,19.9 376,23 378.4,25.4 380.8,27.1 383.1,28.1 385.5,28.5 387.9,28.1 390.2,27.1 392.6,25.4 395,23 397.4,19.9 399.8,16.1 402.1,11.6 404.5,6.5 406.9,0.6 409.2,-5.9 414,-21 418.8,-38.9 423.5,-59.5" fill="none" stroke="#f5cf1b" stroke-width="1.2" stroke-linejoin="round" clip-path="url(#cp5)"/>
<polyline points="347.5,17.4 357,19.3 366.5,20.6 376,21.4 385.5,21.7 395,21.4 404.5,20.6 414,19.3 423.5,17.4" fill="none" stroke="#6ea02e" stroke-width="1.2" stroke-linejoin="round" clip-path="url(#cp5)"/>
<polyline points="347.5,146.1 351.3,136.9 355.6,128.5 359.9,121.9 362.2,118.8 364.6,116.2 367,113.9 369.4,112 371.7,110.4 374.6,108.9 376.9,107.9 379.8,107 382.6,106.5 385.5,106.4 388.4,106.5 391.2,107 394.1,107.9 396.4,108.9 399.3,110.4 401.6,112 404,113.9 406.4,116.2 408.8,118.8 411.1,121.9 415.4,128.5 419.7,136.9 423.5,146.1" fill="none" stroke="#6ea02e" stroke-width="1.2" stroke-linejoin="round" clip-path="url(#cp5)"/>
<polyline points="347.5,155.3 351.3,146 355.6,137.4 359.9,130.6 362.2,127.5 364.6,124.8 367,122.5 369.4,120.6 371.7,118.9 374.6,117.4 376.9,116.4 379.8,115.5 382.6,115 385.5,114.8 388.4,115 391.2,115.5 394.1,116.4 396.4,117.4 399.3,118.9 401.6,120.6 404,122.5 406.4,124.8 408.8,127.5 411.1,130.6 415.4,137.4 419.7,146 423.5,155.3" fill="none" stroke="#f5cf1b" stroke-width="1.2" stroke-linejoin="round" clip-path="url(#cp5)"/>
<polyline points="347.5,159.2 351.3,150.1 355.6,141.8 359.9,135.2 362.2,132.2 364.6,129.6 367,127.4 369.4,125.5 371.7,123.9 374.6,122.4 376.9,121.4 379.8,120.6 382.6,120.1 385.5,119.9 388.4,120.1 391.2,120.6 394.1,121.4 396.4,122.4 399.3,123.9 401.6,125.5 404,127.4 406.4,129.6 408.8,132.2 411.1,135.2 415.4,141.8 419.7,150.1 423.5,159.2" fill="none" stroke="#e0191e" stroke-width="1.2" stroke-linejoin="round" clip-path="url(#cp5)"/>
<polyline points="347.5,254.1 352.2,228.2 357,205.8 361.8,186.8 364.1,178.6 366.5,171.3 368.9,164.8 371.2,159.2 373.6,154.4 376,150.5 378.4,147.5 380.8,145.4 383.1,144.1 385.5,143.6 387.9,144.1 390.2,145.4 392.6,147.5 395,150.5 397.4,154.4 399.8,159.2 402.1,164.8 404.5,171.3 406.9,178.6 409.2,186.8 414,205.8 418.8,228.2 423.5,254.1" fill="none" stroke="#e0191e" stroke-width="1.2" stroke-linejoin="round" clip-path="url(#cp5)"/>
<polyline points="347.5,165 352.2,160.8 357,157.1 361.8,154 366.5,151.5 371.2,149.6 376,148.2 380.8,147.3 385.5,147 390.2,147.3 395,148.2 399.8,149.6 404.5,151.5 409.2,154 414,157.1 418.8,160.8 423.5,165" fill="none" stroke="#6ea02e" stroke-width="1.2" stroke-linejoin="round" clip-path="url(#cp5)"/>
<polyline points="347.5,302.6 352.2,266.6 357,235.3 361.8,208.8 364.1,197.4 366.5,187.2 368.9,178.2 371.2,170.4 373.6,163.8 376,158.3 378.4,154.1 380.8,151.1 383.1,149.3 384.1,148.9 385.5,148.7 386.9,148.9 387.9,149.3 390.2,151.1 392.6,154.1 395,158.3 397.4,163.8 399.8,170.4 402.1,178.2 404.5,187.2 406.9,197.4 409.2,208.8 414,235.3 418.8,266.6 423.5,302.6" fill="none" stroke="#f5cf1b" stroke-width="1.2" stroke-linejoin="round" clip-path="url(#cp5)"/>
<line x1="381" y1="31.5" x2="381" y2="114.8" stroke="#f5cf1b" stroke-width="1.5" stroke-dasharray="4.5,2.2"/>
<polyline points="378.5,32.5 381,29 383.5,32.5" fill="none" stroke="#f5cf1b" stroke-width="1.3" stroke-linejoin="round" />
<line x1="385.5" y1="24.7" x2="385.5" y2="106.4" stroke="#6ea02e" stroke-width="1.5" stroke-dasharray="4.5,2.2"/>
<polyline points="383,25.7 385.5,22.2 388,25.7" fill="none" stroke="#6ea02e" stroke-width="1.3" stroke-linejoin="round" />
<line x1="390.3" y1="60.3" x2="390.3" y2="148.7" stroke="#f5cf1b" stroke-width="1.5" stroke-dasharray="4.5,2.2"/>
<polyline points="387.8,61.3 390.3,57.8 392.8,61.3" fill="none" stroke="#f5cf1b" stroke-width="1.3" stroke-linejoin="round" />
<rect x="347.5" y="20" width="76" height="135.5" stroke="#999" fill="none" stroke-width="1"/>
<text x="394" y="40.3" font-family="Liberation Serif" font-size="8" font-weight="bold" font-style="normal" fill="#6ea02e" text-anchor="middle" dominant-baseline="central" >(G1')</text>
<text x="371" y="81" font-family="Liberation Serif" font-size="8" font-weight="bold" font-style="normal" fill="#f5cf1b" text-anchor="middle" dominant-baseline="central" >(Y1')</text>
<text x="403" y="90.7" font-family="Liberation Serif" font-size="8" font-weight="bold" font-style="normal" fill="#f5cf1b" text-anchor="middle" dominant-baseline="central" >(Y2')</text>
<line x1="450.4" y1="20" x2="450.4" y2="155.5" stroke="#e9e9e9" stroke-width="0.8" />
<line x1="468.9" y1="20" x2="468.9" y2="155.5" stroke="#e9e9e9" stroke-width="0.8" />
<line x1="432" y1="138.6" x2="487.3" y2="138.6" stroke="#e9e9e9" stroke-width="0.8" />
<line x1="432" y1="121.6" x2="487.3" y2="121.6" stroke="#e9e9e9" stroke-width="0.8" />
<line x1="432" y1="104.7" x2="487.3" y2="104.7" stroke="#e9e9e9" stroke-width="0.8" />
<line x1="432" y1="87.8" x2="487.3" y2="87.8" stroke="#e9e9e9" stroke-width="0.8" />
<line x1="432" y1="70.8" x2="487.3" y2="70.8" stroke="#e9e9e9" stroke-width="0.8" />
<line x1="432" y1="53.9" x2="487.3" y2="53.9" stroke="#e9e9e9" stroke-width="0.8" />
<line x1="432" y1="36.9" x2="487.3" y2="36.9" stroke="#e9e9e9" stroke-width="0.8" />
<line x1="450.4" y1="155.5" x2="450.4" y2="153.5" stroke="#777" stroke-width="0.7" />
<line x1="450.4" y1="20" x2="450.4" y2="22" stroke="#777" stroke-width="0.7" />
<line x1="468.9" y1="155.5" x2="468.9" y2="153.5" stroke="#777" stroke-width="0.7" />
<line x1="468.9" y1="20" x2="468.9" y2="22" stroke="#777" stroke-width="0.7" />
<line x1="432" y1="138.6" x2="434" y2="138.6" stroke="#777" stroke-width="0.7" />
<line x1="487.3" y1="138.6" x2="485.3" y2="138.6" stroke="#777" stroke-width="0.7" />
<line x1="432" y1="121.6" x2="434" y2="121.6" stroke="#777" stroke-width="0.7" />
<line x1="487.3" y1="121.6" x2="485.3" y2="121.6" stroke="#777" stroke-width="0.7" />
<line x1="432" y1="104.7" x2="434" y2="104.7" stroke="#777" stroke-width="0.7" />
<line x1="487.3" y1="104.7" x2="485.3" y2="104.7" stroke="#777" stroke-width="0.7" />
<line x1="432" y1="87.8" x2="434" y2="87.8" stroke="#777" stroke-width="0.7" />
<line x1="487.3" y1="87.8" x2="485.3" y2="87.8" stroke="#777" stroke-width="0.7" />
<line x1="432" y1="70.8" x2="434" y2="70.8" stroke="#777" stroke-width="0.7" />
<line x1="487.3" y1="70.8" x2="485.3" y2="70.8" stroke="#777" stroke-width="0.7" />
<line x1="432" y1="53.9" x2="434" y2="53.9" stroke="#777" stroke-width="0.7" />
<line x1="487.3" y1="53.9" x2="485.3" y2="53.9" stroke="#777" stroke-width="0.7" />
<line x1="432" y1="36.9" x2="434" y2="36.9" stroke="#777" stroke-width="0.7" />
<line x1="487.3" y1="36.9" x2="485.3" y2="36.9" stroke="#777" stroke-width="0.7" />
<text x="432" y="163.5" font-family="Liberation Serif" font-size="10" font-weight="normal" font-style="normal" fill="#333" text-anchor="middle" dominant-baseline="central" >0</text>
<text x="450.4" y="163.5" font-family="Liberation Serif" font-size="10" font-weight="normal" font-style="normal" fill="#333" text-anchor="middle" dominant-baseline="central" >1</text>
<text x="468.9" y="163.5" font-family="Liberation Serif" font-size="10" font-weight="normal" font-style="normal" fill="#333" text-anchor="middle" dominant-baseline="central" >2</text>
<text x="487.3" y="163.5" font-family="Liberation Serif" font-size="10" font-weight="normal" font-style="normal" fill="#333" text-anchor="middle" dominant-baseline="central" >3</text>
<text x="460" y="174.4" font-family="Liberation Serif" font-size="9.5" font-weight="bold" font-style="italic" fill="#111" text-anchor="middle" dominant-baseline="central" >DOS (arb.unit)</text>
<polyline points="442.5,155.5 443.7,151.7 445.3,148.7 447,146.8 450.4,144.4 450.4,144.1 449.9,143.8 443.5,142.2 442.2,141.4 441.7,140.6 441.3,139 441.5,136.5 442.3,133.5 443.4,130.8 444.4,128.9 445.6,127.3 447,126 448.8,124.6 452.2,123 458.6,121.1 459.3,120.8 459.4,120.5 456.8,120 442.3,118.6 439.2,118.1 437.3,117.6 435.7,116.7 434.3,115.4 433.5,113.8 433,111.6 432.6,107.3 432.4,100.2 432.3,73.4 432.7,61.5 433.1,58.2 433.7,56 434.4,54.7 435.5,53.6 437,52.8 438.8,52.2 443.8,51.4 454.6,50.4 456.1,50.1 456.5,49.8 455.6,49.3 450.7,47.6 448,46.3 445.7,44.4 444.2,42.2 443.9,41.1 443.9,40.1 444.3,39.2 445,38.7 447.3,37.9 452.6,36.8 453.2,36.5 453.4,36.3 448.6,33.3 447.2,31.9 446,30.3 444.9,28.1 443.9,25.4 443.2,22.4 443,20" fill="none" stroke="#e0191e" stroke-width="1.45" stroke-linejoin="round" />
<polyline points="472.2,155.5 476,154.7 476.2,154.4 475.2,154.1 452.1,152.5 447.8,152 445.2,151.4 442.9,150.6 441.3,149.5 440.3,148.2 439.7,146.3 439.5,144.1 439.5,141.1 440.3,134.1 441.7,128.4 442.7,126 443.7,124.1 445.7,121.4 448.5,119.2 452,117.6 457.9,115.7 457.9,115.4 456.9,115.1 441.3,113.5 438.6,113 436.9,112.4 435.4,111.6 434.2,110.2 433.5,108.6 433,106.2 432.6,102.1 432.4,96.2 432.4,75.6 432.8,66.6 433.1,64.2 433.7,62.3 434.3,61.2 435.1,60.4 436.4,59.6 438,59 442.4,58.2 452.1,57.1 453.4,56.9 453.8,56.6 452.9,56 449.8,55 447.4,53.9 445.6,52.8 444.4,51.7 443,50.1 441.9,48.2 440.8,45.7 440.1,43 439.3,39 439.1,35.2 439.3,33 440.2,31.4 441.3,30.6 443.6,29.8 451.9,28.4 453.4,27.9 452.8,27.3 449.5,25.7 447.6,24.3 446,22.4 444.9,20" fill="none" stroke="#f5cf1b" stroke-width="1.45" stroke-linejoin="round" />
<polyline points="452.5,155.5 455.3,153.1 458.8,151.2 462.7,149.8 469.6,148.2 470.5,147.9 470.7,147.6 467.5,147.1 450.1,145.7 445.3,144.9 442.9,144.1 441.6,143.3 440.6,142.2 439.9,140.6 439.6,138.4 439.5,135.4 439.8,131.7 440.4,127.6 441.9,121.1 442.8,118.4 443.9,116.2 446.2,113.2 447.7,111.9 449.3,110.8 452.2,109.4 458.6,107.5 459.3,107.3 459.4,107 456.8,106.4 442.3,105.1 438.2,104.3 436.2,103.5 435.1,102.7 434.1,101.3 433.5,99.7 433,97 432.7,93.2 432.6,81.5 433.1,75 433.6,73.1 434.2,71.8 434.9,70.9 436,70.1 439.2,69.1 442.4,68.5 455,67.2 455.9,66.9 455.9,66.6 449.8,64.4 446.8,62.8 445.5,61.7 444.2,60.4 442.3,57.4 441.3,55 440.5,52.2 439.2,45.5 438.4,36.8 438.3,33 438.5,30.3 439,28.1 439.8,26.5 441.3,25.1 443.1,24.3 446.5,23.5 450.6,23 472.8,21.4 473.8,21.1 473.6,20.8 469.9,20" fill="none" stroke="#6ea02e" stroke-width="1.45" stroke-linejoin="round" />
<rect x="432" y="20" width="55.3" height="135.5" stroke="#999" fill="none" stroke-width="1"/>
<text x="498.5" y="9.5" font-family="Liberation Serif" font-size="13" font-weight="bold" font-style="normal" fill="#b5000f" text-anchor="middle" dominant-baseline="central" >(e)</text>
<line x1="557.5" y1="20" x2="557.5" y2="156.3" stroke="#e4e4e4" stroke-width="0.8" />
<line x1="597" y1="20" x2="597" y2="156.3" stroke="#e4e4e4" stroke-width="0.8" />
<line x1="636.5" y1="20" x2="636.5" y2="156.3" stroke="#e4e4e4" stroke-width="0.8" />
<line x1="518" y1="133.6" x2="676" y2="133.6" stroke="#e4e4e4" stroke-width="0.8" />
<line x1="518" y1="110.9" x2="676" y2="110.9" stroke="#e4e4e4" stroke-width="0.8" />
<line x1="518" y1="88.2" x2="676" y2="88.2" stroke="#e4e4e4" stroke-width="0.8" />
<line x1="518" y1="65.4" x2="676" y2="65.4" stroke="#e4e4e4" stroke-width="0.8" />
<line x1="518" y1="42.7" x2="676" y2="42.7" stroke="#e4e4e4" stroke-width="0.8" />
<line x1="518" y1="156.3" x2="518" y2="153.8" stroke="#555" stroke-width="0.7" />
<line x1="518" y1="20" x2="518" y2="22.5" stroke="#555" stroke-width="0.7" />
<line x1="557.5" y1="156.3" x2="557.5" y2="153.8" stroke="#555" stroke-width="0.7" />
<line x1="557.5" y1="20" x2="557.5" y2="22.5" stroke="#555" stroke-width="0.7" />
<line x1="597" y1="156.3" x2="597" y2="153.8" stroke="#555" stroke-width="0.7" />
<line x1="597" y1="20" x2="597" y2="22.5" stroke="#555" stroke-width="0.7" />
<line x1="636.5" y1="156.3" x2="636.5" y2="153.8" stroke="#555" stroke-width="0.7" />
<line x1="636.5" y1="20" x2="636.5" y2="22.5" stroke="#555" stroke-width="0.7" />
<line x1="676" y1="156.3" x2="676" y2="153.8" stroke="#555" stroke-width="0.7" />
<line x1="676" y1="20" x2="676" y2="22.5" stroke="#555" stroke-width="0.7" />
<line x1="518" y1="133.6" x2="520.5" y2="133.6" stroke="#555" stroke-width="0.7" />
<line x1="676" y1="133.6" x2="673.5" y2="133.6" stroke="#555" stroke-width="0.7" />
<line x1="518" y1="110.9" x2="520.5" y2="110.9" stroke="#555" stroke-width="0.7" />
<line x1="676" y1="110.9" x2="673.5" y2="110.9" stroke="#555" stroke-width="0.7" />
<line x1="518" y1="88.2" x2="520.5" y2="88.2" stroke="#555" stroke-width="0.7" />
<line x1="676" y1="88.2" x2="673.5" y2="88.2" stroke="#555" stroke-width="0.7" />
<line x1="518" y1="65.4" x2="520.5" y2="65.4" stroke="#555" stroke-width="0.7" />
<line x1="676" y1="65.4" x2="673.5" y2="65.4" stroke="#555" stroke-width="0.7" />
<line x1="518" y1="42.7" x2="520.5" y2="42.7" stroke="#555" stroke-width="0.7" />
<line x1="676" y1="42.7" x2="673.5" y2="42.7" stroke="#555" stroke-width="0.7" />
<text x="515.5" y="156.3" font-family="Liberation Serif" font-size="7.2" font-weight="normal" font-style="normal" fill="#333" text-anchor="end" dominant-baseline="central" >0.0</text>
<text x="515.5" y="133.6" font-family="Liberation Serif" font-size="7.2" font-weight="normal" font-style="normal" fill="#333" text-anchor="end" dominant-baseline="central" >0.1</text>
<text x="515.5" y="110.9" font-family="Liberation Serif" font-size="7.2" font-weight="normal" font-style="normal" fill="#333" text-anchor="end" dominant-baseline="central" >0.2</text>
<text x="515.5" y="88.2" font-family="Liberation Serif" font-size="7.2" font-weight="normal" font-style="normal" fill="#333" text-anchor="end" dominant-baseline="central" >0.3</text>
<text x="515.5" y="65.4" font-family="Liberation Serif" font-size="7.2" font-weight="normal" font-style="normal" fill="#333" text-anchor="end" dominant-baseline="central" >0.4</text>
<text x="515.5" y="42.7" font-family="Liberation Serif" font-size="7.2" font-weight="normal" font-style="normal" fill="#333" text-anchor="end" dominant-baseline="central" >0.5</text>
<text x="515.5" y="20" font-family="Liberation Serif" font-size="7.2" font-weight="normal" font-style="normal" fill="#333" text-anchor="end" dominant-baseline="central" >0.6</text>
<text x="679" y="156.3" font-family="Liberation Serif" font-size="7.2" font-weight="normal" font-style="normal" fill="#333" text-anchor="start" dominant-baseline="central" >0</text>
<line x1="676" y1="156.3" x2="678" y2="156.3" stroke="#555" stroke-width="0.7" />
<text x="679" y="140.3" font-family="Liberation Serif" font-size="7.2" font-weight="normal" font-style="normal" fill="#333" text-anchor="start" dominant-baseline="central" >2</text>
<line x1="676" y1="140.3" x2="678" y2="140.3" stroke="#555" stroke-width="0.7" />
<text x="679" y="124.2" font-family="Liberation Serif" font-size="7.2" font-weight="normal" font-style="normal" fill="#333" text-anchor="start" dominant-baseline="central" >4</text>
<line x1="676" y1="124.2" x2="678" y2="124.2" stroke="#555" stroke-width="0.7" />
<text x="679" y="108.2" font-family="Liberation Serif" font-size="7.2" font-weight="normal" font-style="normal" fill="#333" text-anchor="start" dominant-baseline="central" >6</text>
<line x1="676" y1="108.2" x2="678" y2="108.2" stroke="#555" stroke-width="0.7" />
<text x="679" y="92.2" font-family="Liberation Serif" font-size="7.2" font-weight="normal" font-style="normal" fill="#333" text-anchor="start" dominant-baseline="central" >8</text>
<line x1="676" y1="92.2" x2="678" y2="92.2" stroke="#555" stroke-width="0.7" />
<text x="679" y="76.1" font-family="Liberation Serif" font-size="7.2" font-weight="normal" font-style="normal" fill="#333" text-anchor="start" dominant-baseline="central" >10</text>
<line x1="676" y1="76.1" x2="678" y2="76.1" stroke="#555" stroke-width="0.7" />
<text x="679" y="60.1" font-family="Liberation Serif" font-size="7.2" font-weight="normal" font-style="normal" fill="#333" text-anchor="start" dominant-baseline="central" >12</text>
<line x1="676" y1="60.1" x2="678" y2="60.1" stroke="#555" stroke-width="0.7" />
<text x="679" y="44.1" font-family="Liberation Serif" font-size="7.2" font-weight="normal" font-style="normal" fill="#333" text-anchor="start" dominant-baseline="central" >14</text>
<line x1="676" y1="44.1" x2="678" y2="44.1" stroke="#555" stroke-width="0.7" />
<text x="679" y="28" font-family="Liberation Serif" font-size="7.2" font-weight="normal" font-style="normal" fill="#333" text-anchor="start" dominant-baseline="central" >16</text>
<line x1="676" y1="28" x2="678" y2="28" stroke="#555" stroke-width="0.7" />
<text x="518" y="163.1" font-family="Liberation Serif" font-size="7.2" font-weight="normal" font-style="normal" fill="#333" text-anchor="middle" dominant-baseline="central" >-1.0</text>
<text x="557.5" y="163.1" font-family="Liberation Serif" font-size="7.2" font-weight="normal" font-style="normal" fill="#333" text-anchor="middle" dominant-baseline="central" >-0.5</text>
<text x="597" y="163.1" font-family="Liberation Serif" font-size="7.2" font-weight="normal" font-style="normal" fill="#333" text-anchor="middle" dominant-baseline="central" >0.0</text>
<text x="636.5" y="163.1" font-family="Liberation Serif" font-size="7.2" font-weight="normal" font-style="normal" fill="#333" text-anchor="middle" dominant-baseline="central" >0.5</text>
<text x="676" y="163.1" font-family="Liberation Serif" font-size="7.2" font-weight="normal" font-style="normal" fill="#333" text-anchor="middle" dominant-baseline="central" >1.0</text>
<rect x="518.5" y="20" width="157.5" height="136.3" stroke="#b0b0b0" fill="none" stroke-width="1"/>
<line x1="518" y1="20" x2="676" y2="20" stroke="#666" stroke-width="1.6" />
<line x1="676" y1="20" x2="676" y2="156.3" stroke="#666" stroke-width="1.6" />
<text x="540" y="33" font-family="Liberation Serif" font-size="12" font-weight="bold" font-style="italic" fill="#111" text-anchor="middle" dominant-baseline="central" >M = 6</text>
<line x1="574.5" y1="26.2" x2="589.8" y2="26.2" stroke="#d2437f" stroke-width="1.1" />
<line x1="574.5" y1="37" x2="589.8" y2="37" stroke="#9552e3" stroke-width="1.8" />
<text x="591.4" y="26.2" font-family="Liberation Serif" font-size="7" font-weight="bold" font-style="italic" fill="#cc0000" text-anchor="start" dominant-baseline="central" >The position of the 1st peaks</text>
<text x="591.4" y="37" font-family="Liberation Serif" font-size="7" font-weight="bold" font-style="italic" fill="#cc0000" text-anchor="start" dominant-baseline="central" >The height of the 1st peaks</text>
<text x="497" y="93.7" font-family="Liberation Serif" font-size="11" font-weight="bold" font-style="italic" fill="#111" text-anchor="middle" dominant-baseline="central" transform="rotate(-90 497 93.7)" >ω (t<tspan font-size="8" dy="2.5">g</tspan><tspan dy="-2.5">)</tspan></text>
<text x="693" y="98" font-family="Liberation Serif" font-size="9.5" font-weight="bold" font-style="italic" fill="#111" text-anchor="middle" dominant-baseline="central" transform="rotate(90 693 98)" >A(ω) (arb.unit)</text>
<text x="598.5" y="173" font-family="Liberation Serif" font-size="9.5" font-weight="bold" font-style="italic" fill="#111" text-anchor="middle" dominant-baseline="central" >V<tspan font-size="6.5" dy="2.5">t</tspan><tspan dy="-2.5"> (V)</tspan></text>
<polyline points="517.8,112.5 526.3,105.7 529,105.7 541.7,94.2 545.4,93.6 557.2,82.4 560.6,81.8 573.5,70.5 576.4,70.5 582,66.3 584.8,66.3 589.6,62.1 603.4,62.1 608.5,66.3 612.5,66.3 617,70.3 620.3,70.3 633,81.8 636.7,82.4 648.5,93.6 652.7,94.2 664,104.9 667.6,105.7 675.8,112.5" fill="none" stroke="#d2437f" stroke-width="1.3" stroke-linejoin="round" />
<polyline points="517.8,136.7 526.3,140 533.3,140 540.3,141 546,137.3 557.2,133.9 561.4,128.8 565.7,121 572.7,117.6 577.5,99.3 584.8,89.4 588.7,78.1 593.2,50 597,42.7 600.6,50 604.9,76.7 609,90.8 616.1,99.3 620.3,117.5 627.4,120.4 637.2,133.9 647,136.7 652.7,140.6 662.5,140 669.6,140 675.8,137.3" fill="none" stroke="#9552e3" stroke-width="1.6" stroke-linejoin="round" />
<text x="10.5" y="180.5" font-family="Liberation Serif" font-size="13" font-weight="bold" font-style="normal" fill="#b5000f" text-anchor="middle" dominant-baseline="central" >(b)</text>
<line x1="50.5" y1="189.6" x2="50.5" y2="328.8" stroke="#e9e9e9" stroke-width="0.8" />
<line x1="73.6" y1="189.6" x2="73.6" y2="328.8" stroke="#e9e9e9" stroke-width="0.8" />
<line x1="96.8" y1="189.6" x2="96.8" y2="328.8" stroke="#e9e9e9" stroke-width="0.8" />
<line x1="119.9" y1="189.6" x2="119.9" y2="328.8" stroke="#e9e9e9" stroke-width="0.8" />
<line x1="143.1" y1="189.6" x2="143.1" y2="328.8" stroke="#e9e9e9" stroke-width="0.8" />
<line x1="166.3" y1="189.6" x2="166.3" y2="328.8" stroke="#e9e9e9" stroke-width="0.8" />
<line x1="189.4" y1="189.6" x2="189.4" y2="328.8" stroke="#e9e9e9" stroke-width="0.8" />
<line x1="27.3" y1="305.6" x2="212.6" y2="305.6" stroke="#e9e9e9" stroke-width="0.8" />
<line x1="27.3" y1="282.4" x2="212.6" y2="282.4" stroke="#e9e9e9" stroke-width="0.8" />
<line x1="27.3" y1="259.2" x2="212.6" y2="259.2" stroke="#e9e9e9" stroke-width="0.8" />
<line x1="27.3" y1="236" x2="212.6" y2="236" stroke="#e9e9e9" stroke-width="0.8" />
<line x1="27.3" y1="212.8" x2="212.6" y2="212.8" stroke="#e9e9e9" stroke-width="0.8" />
<line x1="50.5" y1="328.8" x2="50.5" y2="326.8" stroke="#777" stroke-width="0.7" />
<line x1="50.5" y1="189.6" x2="50.5" y2="191.6" stroke="#777" stroke-width="0.7" />
<line x1="73.6" y1="328.8" x2="73.6" y2="326.8" stroke="#777" stroke-width="0.7" />
<line x1="73.6" y1="189.6" x2="73.6" y2="191.6" stroke="#777" stroke-width="0.7" />
<line x1="96.8" y1="328.8" x2="96.8" y2="326.8" stroke="#777" stroke-width="0.7" />
<line x1="96.8" y1="189.6" x2="96.8" y2="191.6" stroke="#777" stroke-width="0.7" />
<line x1="119.9" y1="328.8" x2="119.9" y2="326.8" stroke="#777" stroke-width="0.7" />
<line x1="119.9" y1="189.6" x2="119.9" y2="191.6" stroke="#777" stroke-width="0.7" />
<line x1="143.1" y1="328.8" x2="143.1" y2="326.8" stroke="#777" stroke-width="0.7" />
<line x1="143.1" y1="189.6" x2="143.1" y2="191.6" stroke="#777" stroke-width="0.7" />
<line x1="166.3" y1="328.8" x2="166.3" y2="326.8" stroke="#777" stroke-width="0.7" />
<line x1="166.3" y1="189.6" x2="166.3" y2="191.6" stroke="#777" stroke-width="0.7" />
<line x1="189.4" y1="328.8" x2="189.4" y2="326.8" stroke="#777" stroke-width="0.7" />
<line x1="189.4" y1="189.6" x2="189.4" y2="191.6" stroke="#777" stroke-width="0.7" />
<line x1="27.3" y1="305.6" x2="29.3" y2="305.6" stroke="#777" stroke-width="0.7" />
<line x1="212.6" y1="305.6" x2="210.6" y2="305.6" stroke="#777" stroke-width="0.7" />
<line x1="27.3" y1="282.4" x2="29.3" y2="282.4" stroke="#777" stroke-width="0.7" />
<line x1="212.6" y1="282.4" x2="210.6" y2="282.4" stroke="#777" stroke-width="0.7" />
<line x1="27.3" y1="259.2" x2="29.3" y2="259.2" stroke="#777" stroke-width="0.7" />
<line x1="212.6" y1="259.2" x2="210.6" y2="259.2" stroke="#777" stroke-width="0.7" />
<line x1="27.3" y1="236" x2="29.3" y2="236" stroke="#777" stroke-width="0.7" />
<line x1="212.6" y1="236" x2="210.6" y2="236" stroke="#777" stroke-width="0.7" />
<line x1="27.3" y1="212.8" x2="29.3" y2="212.8" stroke="#777" stroke-width="0.7" />
<line x1="212.6" y1="212.8" x2="210.6" y2="212.8" stroke="#777" stroke-width="0.7" />
<text x="25.8" y="328.8" font-family="Liberation Serif" font-size="7.5" font-weight="normal" font-style="normal" fill="#333" text-anchor="end" dominant-baseline="central" >0</text>
<text x="25.8" y="305.6" font-family="Liberation Serif" font-size="7.5" font-weight="normal" font-style="normal" fill="#333" text-anchor="end" dominant-baseline="central" >10</text>
<text x="25.8" y="282.4" font-family="Liberation Serif" font-size="7.5" font-weight="normal" font-style="normal" fill="#333" text-anchor="end" dominant-baseline="central" >20</text>
<text x="25.8" y="259.2" font-family="Liberation Serif" font-size="7.5" font-weight="normal" font-style="normal" fill="#333" text-anchor="end" dominant-baseline="central" >30</text>
<text x="25.8" y="236" font-family="Liberation Serif" font-size="7.5" font-weight="normal" font-style="normal" fill="#333" text-anchor="end" dominant-baseline="central" >40</text>
<text x="25.8" y="212.8" font-family="Liberation Serif" font-size="7.5" font-weight="normal" font-style="normal" fill="#333" text-anchor="end" dominant-baseline="central" >50</text>
<text x="25.8" y="189.6" font-family="Liberation Serif" font-size="7.5" font-weight="normal" font-style="normal" fill="#333" text-anchor="end" dominant-baseline="central" >60</text>
<text x="27.3" y="336.6" font-family="Liberation Serif" font-size="7.5" font-weight="normal" font-style="normal" fill="#333" text-anchor="middle" dominant-baseline="central" >0</text>
<text x="50.5" y="336.6" font-family="Liberation Serif" font-size="7.5" font-weight="normal" font-style="normal" fill="#333" text-anchor="middle" dominant-baseline="central" >0.5</text>
<text x="73.6" y="336.6" font-family="Liberation Serif" font-size="7.5" font-weight="normal" font-style="normal" fill="#333" text-anchor="middle" dominant-baseline="central" >1</text>
<text x="96.8" y="336.6" font-family="Liberation Serif" font-size="7.5" font-weight="normal" font-style="normal" fill="#333" text-anchor="middle" dominant-baseline="central" >1.5</text>
<text x="119.9" y="336.6" font-family="Liberation Serif" font-size="7.5" font-weight="normal" font-style="normal" fill="#333" text-anchor="middle" dominant-baseline="central" >2</text>
<text x="143.1" y="336.6" font-family="Liberation Serif" font-size="7.5" font-weight="normal" font-style="normal" fill="#333" text-anchor="middle" dominant-baseline="central" >2.5</text>
<text x="166.3" y="336.6" font-family="Liberation Serif" font-size="7.5" font-weight="normal" font-style="normal" fill="#333" text-anchor="middle" dominant-baseline="central" >3</text>
<text x="189.4" y="336.6" font-family="Liberation Serif" font-size="7.5" font-weight="normal" font-style="normal" fill="#333" text-anchor="middle" dominant-baseline="central" >3.5</text>
<text x="212.6" y="336.6" font-family="Liberation Serif" font-size="7.5" font-weight="normal" font-style="normal" fill="#333" text-anchor="middle" dominant-baseline="central" >4</text>
<text x="11.3" y="258" font-family="Liberation Serif" font-size="7.5" font-weight="bold" font-style="italic" fill="#111" text-anchor="middle" dominant-baseline="central" transform="rotate(-90 11.3 258)" >A(ω) (arb.unit)</text>
<text x="119.5" y="346.5" font-family="Liberation Serif" font-size="8" font-weight="normal" font-style="italic" fill="#222" text-anchor="middle" dominant-baseline="central" >ω (<tspan font-style="italic">t</tspan><tspan font-size="5.5" dy="2">g</tspan><tspan dy="-2">)</tspan></text>
<clipPath id="cp6"><rect x="27.3" y="189.6" width="185.3" height="139.2"/></clipPath>
<polyline points="27.3,328.8 39,328.8 40.7,328.2 41.1,327.5 41.3,326.1 41.7,314.9 42.1,317.9 42.7,320.1 43.6,321.5 44.8,322.6 46.9,323.5 49.1,323.9 53.2,324 56.9,323.7 57.4,322.6 57.6,320.2 57.9,304.9 58.4,310.2 59.2,314.6 60.4,318 61.3,319.3 61.5,319.4 61.7,319.2 62.1,314.5 62.3,302.9 62.5,267.3 63.3,288.7 64.6,302.7 65.4,307.9 66.4,312.2 67.7,315.6 69.1,318 69.9,318.8 70.1,318.7 70.3,318.1 70.5,315.8 70.8,300.3 71.8,309.1 73,314.2 73.8,316.2 74.9,317.8 76.1,319.2 77.3,320 79.8,320.9 83.1,321.3 89.9,321.4 95.9,321 97.3,320.8 98.5,320.1 100,318.9 101.4,317.2 102.2,315.2 103.1,311.7 103.7,308.4 104.1,304.4 104.5,286 104.7,261.5 105.1,270.2 105.9,277.4 107.2,283 107.4,283.2 107.6,282.5 107.8,279.9 108.2,259 108.5,205.1 109,235 109.9,258.1 111.1,276.6 112.5,288.3 113.4,291.9 114.4,294.5 115.2,295.5 117.3,296.8 118.7,298.3 118.9,298.1 119.1,297 119.5,284.7 120.4,292.4 122,299.9 123,303.1 124.1,305.5 125.1,307.3 126.5,309.1 130.5,313 130.9,313.1 131.1,312.6 131.5,303.4 131.8,265 132.7,287.2 133.5,296.5 134.6,303.7 135.8,309.1 137.2,313 139.1,316 141.4,318.2 143,319.2 145.3,320 151.2,321.2 160.7,322.1 173.1,322.4 173.5,322.2 173.7,321.5 173.9,319.6 174.2,310.7 174.9,315.1 176.2,318.2 177,319.4 178,320.3 179.2,321.1 180.7,321.6 183.6,322.2 187.9,322.6 207,323.1 207.5,322.8 207.7,322.2 208,318.4 208.7,320.1 209.5,321.1 210.7,321.9 212.6,322.5" fill="none" stroke="#e0191e" stroke-width="1.25" stroke-linejoin="round" clip-path="url(#cp6)"/>
<polyline points="27.3,328.8 36.8,328.8 38.8,328.3 39.2,327.7 39.4,326.7 39.8,318.4 40.3,320.6 40.9,322.3 41.7,323.4 42.9,324 46.2,324.4 48.5,324.4 59.2,323.7 59.6,323 59.8,321.5 60.2,308.6 61.1,314.7 61.7,316.8 62.5,318.6 63.5,320 64.8,321 66.6,321.9 67.2,322 67.7,321.9 68.1,320.1 68.3,315.9 68.5,297 69.3,306.6 69.9,310.5 70.5,313.2 71.4,315.6 72.4,317.6 73.4,318.9 74.9,320 77.3,321 80.6,321.5 88.7,321.5 94.8,321.1 97.1,320.8 98.1,320.4 99.6,319.3 101.2,317.5 102,315.8 103.1,311.7 104.1,306.1 104.7,300.2 105.1,288.1 105.3,272.8 105.6,230 106.4,256.6 107,266.7 107.8,275.7 109,285 110.5,292.9 111.9,298.2 112.5,299.6 113.2,300.5 113.8,300.9 114.4,300.9 117.1,299.7 118.5,300.1 118.7,300 118.9,299.3 119.3,288.9 119.5,273.1 119.9,281.1 120.6,287.7 121.2,291.9 121.4,292.6 121.6,291.8 121.8,287 122,266.4 122.6,278.5 123.2,286.2 124.1,293 125.1,298.6 126.3,303 128,307 130.5,311.3 133.1,314.9 133.3,315 133.5,314.9 133.7,313.9 134,310.4 134.3,277.8 134.8,288.3 135.4,296.5 136.2,303.2 137,307.5 138.3,311.7 139.7,314.9 141.6,317.3 143.6,318.9 147.1,320.3 152.3,321.3 159.9,322 169.8,322.4 170.2,322.3 170.4,322 170.6,321.2 170.9,315.8 171.6,318.2 172.9,320 174.7,321.2 177.4,322 184.4,322.6 204.6,323.1 205.2,323 205.4,322.8 205.7,321.8 206.4,322.3 207.9,322.7 212.6,323.1" fill="none" stroke="#f5cf1b" stroke-width="1.25" stroke-linejoin="round" clip-path="url(#cp6)"/>
<polyline points="27.3,328.8 32.2,328.8 33.7,328.5 34.1,328 34.3,327.3 34.7,323.2 35.1,324.9 35.5,325.7 36.2,326.3 37.2,326.6 38.6,326.6 43.2,326 49.9,325.1 50.6,324.9 51,323.6 51.2,320.9 51.4,312.6 52,316.5 52.6,318.6 53.7,320.6 55.1,322 56.9,322.8 59.4,323.3 63.7,323.3 66,323.2 66.6,323 67,321.5 67.2,318.3 67.6,289.8 68.3,301.1 68.9,306.7 69.5,310.3 70.3,313.5 71.2,315.7 72.2,317.6 73.4,319.1 75.1,320.2 76.9,321 79.4,321.4 82.7,321.5 91.1,321.4 96.7,320.9 98.1,320.4 99.8,319.1 100.4,318.1 100.8,315 101.1,298.9 101.8,304.2 102.2,305.2 102.7,305.3 103.5,303.7 105.3,297.1 106.8,293.1 107.2,283.1 107.4,249 108,263.4 109,277.2 110.3,286.5 111.1,290.8 111.9,293.9 112.9,296.4 113.8,297.2 114.4,297.1 115,296.6 115.6,295.7 115.8,295 116.2,288.9 116.5,272.7 117.1,279.3 117.9,284.5 119.3,290 119.7,290.5 119.9,289.9 120.4,283 120.6,272 120.9,227.6 121.6,260.7 122.2,274.3 122.6,279.1 122.8,278.4 123,270.7 123.2,252.9 123.7,265.9 124.5,279.7 125.3,288.2 126.5,296.6 128,302.8 129.6,307.6 132.1,312.7 133.5,315 134.8,316.5 135.8,317.4 137.2,318.3 137.7,318.3 137.9,317.9 138.3,312.5 138.5,299.6 138.9,304.4 139.5,308.7 140.3,312.2 141.2,314.4 142.4,316.6 143.8,318.1 145.7,319.3 148,320.3 150.8,321 154.5,321.5 165.2,322.2 165.7,322.1 165.9,321.9 166.3,318.4 167.1,319.9 168.3,321 170.4,321.7 173.3,322.2 181.7,322.6 182.1,322.2 182.5,319.8 183.2,320.7 184.2,321.5 185.8,322 188.1,322.4 194.9,322.8 198.2,322.9 198.7,322.8 212.6,323.2" fill="none" stroke="#6ea02e" stroke-width="1.25" stroke-linejoin="round" clip-path="url(#cp6)"/>
<rect x="27.6" y="311" width="26.8" height="17.8" stroke="#1aa6e6" fill="none" stroke-width="1.8"/>
<rect x="126" y="189.6" width="86" height="69" fill="#fff"/>
<line x1="126" y1="189.6" x2="212.6" y2="189.6" stroke="#c8c8c8" stroke-width="1" />
<rect x="28" y="189.8" width="65.5" height="36.3" stroke="#9a9a9a" fill="#fff" stroke-width="1"/>
<line x1="29.3" y1="195.6" x2="39.3" y2="195.6" stroke="#e0191e" stroke-width="1.6" />
<text x="40.3" y="195.6" font-family="Liberation Serif" font-size="7.4" fill="#222" dominant-baseline="central"><tspan font-style="italic">M</tspan> = 7, <tspan font-style="italic">V</tspan><tspan font-style="italic" font-size="5.18" dy="3">t</tspan><tspan dy="-3"> = 0 V</tspan></text>
<line x1="29.3" y1="207.5" x2="39.3" y2="207.5" stroke="#f5cf1b" stroke-width="1.6" />
<text x="40.3" y="207.5" font-family="Liberation Serif" font-size="7.4" fill="#222" dominant-baseline="central"><tspan font-style="italic">M</tspan> = 7, <tspan font-style="italic">V</tspan><tspan font-style="italic" font-size="5.18" dy="3">t</tspan><tspan dy="-3"> = 0.4 V</tspan></text>
<line x1="29.3" y1="219.5" x2="39.3" y2="219.5" stroke="#6ea02e" stroke-width="1.6" />
<text x="40.3" y="219.5" font-family="Liberation Serif" font-size="7.4" fill="#222" dominant-baseline="central"><tspan font-style="italic">M</tspan> = 7, <tspan font-style="italic">V</tspan><tspan font-style="italic" font-size="5.18" dy="3">t</tspan><tspan dy="-3"> = 0.8 V</tspan></text>
<rect x="27.3" y="189.6" width="185.3" height="139.2" stroke="#8f8f8f" fill="none" stroke-width="1"/>
<line x1="145.6" y1="190" x2="145.6" y2="244" stroke="#e9e9e9" stroke-width="0.8" />
<line x1="155.3" y1="190" x2="155.3" y2="244" stroke="#e9e9e9" stroke-width="0.8" />
<line x1="135.8" y1="228.6" x2="165.1" y2="228.6" stroke="#e9e9e9" stroke-width="0.8" />
<line x1="135.8" y1="213.1" x2="165.1" y2="213.1" stroke="#e9e9e9" stroke-width="0.8" />
<line x1="135.8" y1="197.7" x2="165.1" y2="197.7" stroke="#e9e9e9" stroke-width="0.8" />
<rect x="135.8" y="190" width="29.3" height="54" stroke="#999" fill="none" stroke-width="0.9"/>
<text x="133.8" y="244" font-family="Liberation Serif" font-size="6.2" font-weight="normal" font-style="normal" fill="#333" text-anchor="end" dominant-baseline="central" >0</text>
<text x="133.8" y="228.6" font-family="Liberation Serif" font-size="6.2" font-weight="normal" font-style="normal" fill="#333" text-anchor="end" dominant-baseline="central" >2</text>
<text x="133.8" y="213.1" font-family="Liberation Serif" font-size="6.2" font-weight="normal" font-style="normal" fill="#333" text-anchor="end" dominant-baseline="central" >4</text>
<text x="133.8" y="197.7" font-family="Liberation Serif" font-size="6.2" font-weight="normal" font-style="normal" fill="#333" text-anchor="end" dominant-baseline="central" >6</text>
<text x="135.8" y="250" font-family="Liberation Serif" font-size="5.6" font-weight="normal" font-style="normal" fill="#333" text-anchor="middle" dominant-baseline="central" >0</text>
<text x="145.6" y="250" font-family="Liberation Serif" font-size="5.6" font-weight="normal" font-style="normal" fill="#333" text-anchor="middle" dominant-baseline="central" >0.15</text>
<text x="155.3" y="250" font-family="Liberation Serif" font-size="5.6" font-weight="normal" font-style="normal" fill="#333" text-anchor="middle" dominant-baseline="central" >0.3</text>
<text x="165.1" y="250" font-family="Liberation Serif" font-size="5.6" font-weight="normal" font-style="normal" fill="#333" text-anchor="middle" dominant-baseline="central" >0.45</text>
<text x="130" y="216.5" font-family="Liberation Serif" font-size="6.8" font-weight="bold" font-style="italic" fill="#111" text-anchor="middle" dominant-baseline="central" transform="rotate(-90 130 216.5)" >A(ω) (arb.unit)</text>
<text x="152" y="260" font-family="Liberation Serif" font-size="6.5" font-weight="normal" font-style="italic" fill="#222" text-anchor="middle" dominant-baseline="central" >ω(t<tspan font-size="4.5" dy="1.5">g</tspan><tspan dy="-1.5">)</tspan></text>
<clipPath id="cp7"><rect x="135.8" y="190" width="29.3" height="54"/></clipPath>
<polyline points="135.8,244 150.4,243.9 151.3,243.7 152,243.4 152.9,242.1 153.8,238 154.5,229.7 154.9,217.3 155.4,196.2 156.4,210.1 157.2,215.5 158.2,219.9 159.3,223.3 160.9,226.3 162.8,228.7 165.1,230.7" fill="none" stroke="#e0191e" stroke-width="1.3" stroke-linejoin="round" clip-path="url(#cp7)"/>
<polyline points="135.8,244 147.8,243.9 149,243.6 149.7,242.6 150.1,241.2 150.4,238.6 150.9,231.6 151.6,204.1 152.2,213.3 152.9,219.2 153.9,224.2 155,227.8 156.7,230.9 158.8,233.3 161.6,235.2 165.1,236.7" fill="none" stroke="#f5cf1b" stroke-width="1.3" stroke-linejoin="round" clip-path="url(#cp7)"/>
<polyline points="135.8,242.5 142.7,242.2 143.6,242 144.2,241.4 144.7,240 145.1,237.5 145.7,226.7 146.2,230.4 146.9,233.4 148,235.4 149.6,236.8 151.8,237.8 154.9,238.6 159.2,239.1 165.1,239.5" fill="none" stroke="#6ea02e" stroke-width="1.3" stroke-linejoin="round" clip-path="url(#cp7)"/>
<text x="156" y="195" font-family="Liberation Serif" font-size="6.8" font-weight="bold" font-style="normal" fill="#e0191e" text-anchor="middle" dominant-baseline="central" >(R1)</text>
<text x="147.5" y="205.7" font-family="Liberation Serif" font-size="6.8" font-weight="bold" font-style="normal" fill="#f5cf1b" text-anchor="middle" dominant-baseline="central" >(Y1)</text>
<text x="142" y="226.5" font-family="Liberation Serif" font-size="6.8" font-weight="bold" font-style="normal" fill="#6ea02e" text-anchor="middle" dominant-baseline="central" >(G1)</text>
<line x1="193.9" y1="190.6" x2="193.9" y2="244.7" stroke="#e9e9e9" stroke-width="0.8" />
<line x1="179.6" y1="217.6" x2="208.2" y2="217.6" stroke="#e9e9e9" stroke-width="0.8" />
<rect x="179.6" y="190.6" width="28.6" height="54.1" stroke="#999" fill="none" stroke-width="0.9"/>
<text x="177.6" y="190.6" font-family="Liberation Serif" font-size="6.2" font-weight="normal" font-style="normal" fill="#333" text-anchor="end" dominant-baseline="central" >0.2</text>
<text x="177.6" y="217.6" font-family="Liberation Serif" font-size="6.2" font-weight="normal" font-style="normal" fill="#333" text-anchor="end" dominant-baseline="central" >0</text>
<text x="177.6" y="244.7" font-family="Liberation Serif" font-size="6.2" font-weight="normal" font-style="normal" fill="#333" text-anchor="end" dominant-baseline="central" >-0.2</text>
<text x="179.6" y="250.7" font-family="Liberation Serif" font-size="6.2" font-weight="normal" font-style="normal" fill="#333" text-anchor="middle" dominant-baseline="central" >-0.2</text>
<text x="193.9" y="250.7" font-family="Liberation Serif" font-size="6.2" font-weight="normal" font-style="normal" fill="#333" text-anchor="middle" dominant-baseline="central" >0</text>
<text x="208.2" y="250.7" font-family="Liberation Serif" font-size="6.2" font-weight="normal" font-style="normal" fill="#333" text-anchor="middle" dominant-baseline="central" >0.2</text>
<text x="173" y="217" font-family="Liberation Serif" font-size="6.5" font-weight="bold" font-style="italic" fill="#111" text-anchor="middle" dominant-baseline="central" transform="rotate(-90 173 217)" >E(t<tspan font-size="4.5" dy="1.5">g</tspan><tspan dy="-1.5">)</tspan></text>
<text x="193.8" y="257.5" font-family="Liberation Serif" font-size="6.5" font-weight="bold" font-style="italic" fill="#222" text-anchor="middle" dominant-baseline="central" >k<tspan font-size="4.5" dy="1.5">x</tspan><tspan dy="-1.5"> a/π</tspan></text>
<clipPath id="cp8"><rect x="179.6" y="190.6" width="28.6" height="54.1"/></clipPath>
<polyline points="179.6,195.2 183,199.9 184.8,201.9 186.6,203.4 188.4,204.6 190.1,205.4 191.9,206 193.9,206.2 195.9,206 197.7,205.4 199.4,204.6 201.2,203.4 203,201.9 204.8,199.9 208.2,195.2" fill="none" stroke="#6ea02e" stroke-width="1.1" stroke-linejoin="round" clip-path="url(#cp8)"/>
<polyline points="179.6,186 183,192.7 184.8,195.4 186.6,197.5 188.4,199.2 190.1,200.4 191.9,201.1 193.9,201.4 195.9,201.1 197.7,200.4 199.4,199.2 201.2,197.5 203,195.4 204.8,192.7 208.2,186" fill="none" stroke="#f5cf1b" stroke-width="1.1" stroke-linejoin="round" clip-path="url(#cp8)"/>
<polyline points="179.6,175.4 181.2,179.6 183,183.7 184.8,187.1 186.6,189.8 188.4,191.9 190.1,193.4 191.9,194.3 193.9,194.7 195.9,194.3 197.7,193.4 199.4,191.9 201.2,189.8 203,187.1 204.8,183.7 206.6,179.6 208.2,175.4" fill="none" stroke="#e0191e" stroke-width="1.1" stroke-linejoin="round" clip-path="url(#cp8)"/>
<polyline points="179.6,164.4 183.2,171.7 185,174.6 186.8,176.9 188.5,178.8 190.3,180.1 192.1,180.9 193.9,181.1 195.7,180.9 197.5,180.1 199.3,178.8 201,176.9 202.8,174.6 204.6,171.7 208.2,164.4" fill="none" stroke="#6ea02e" stroke-width="1.1" stroke-linejoin="round" clip-path="url(#cp8)"/>
<polyline points="179.6,163.5 183.2,168.6 185,170.7 186.8,172.4 188.5,173.6 190.3,174.6 192.1,175.1 193.9,175.3 195.7,175.1 197.5,174.6 199.3,173.6 201,172.4 202.8,170.7 204.6,168.6 208.2,163.5" fill="none" stroke="#e0191e" stroke-width="1.1" stroke-linejoin="round" clip-path="url(#cp8)"/>
<polyline points="179.6,156.6 183.2,162.6 185,164.9 186.8,166.9 188.5,168.4 190.3,169.5 192.1,170.1 193.9,170.3 195.7,170.1 197.5,169.5 199.3,168.4 201,166.9 202.8,164.9 204.6,162.6 208.2,156.6" fill="none" stroke="#f5cf1b" stroke-width="1.1" stroke-linejoin="round" clip-path="url(#cp8)"/>
<polyline points="179.6,235.6 182.8,231.8 186.2,229 188,228.1 190,227.3 191.9,226.9 193.9,226.7 195.9,226.9 197.8,227.3 199.8,228.1 201.6,229 205,231.8 208.2,235.6" fill="none" stroke="#6ea02e" stroke-width="1.1" stroke-linejoin="round" clip-path="url(#cp8)"/>
<polyline points="179.6,244.9 182.8,239.9 184.4,238.1 186.2,236.4 188,235.2 190,234.2 191.9,233.7 193.9,233.5 195.9,233.7 197.8,234.2 199.8,235.2 201.6,236.4 203.4,238.1 205,239.9 208.2,244.9" fill="none" stroke="#f5cf1b" stroke-width="1.1" stroke-linejoin="round" clip-path="url(#cp8)"/>
<polyline points="179.6,249.2 181.2,246.1 182.8,243.6 184.4,241.5 186.2,239.6 188,238.1 190,237 191.9,236.4 193.9,236.2 195.9,236.4 197.8,237 199.8,238.1 201.6,239.6 203.4,241.5 205,243.6 206.6,246.1 208.2,249.2" fill="none" stroke="#e0191e" stroke-width="1.1" stroke-linejoin="round" clip-path="url(#cp8)"/>
<polyline points="179.6,264.8 183.2,259.3 185,257.1 186.8,255.4 188.5,254 190.3,253.1 192.1,252.5 193.9,252.3 195.7,252.5 197.5,253.1 199.3,254 201,255.4 202.8,257.1 204.6,259.3 208.2,264.8" fill="none" stroke="#6ea02e" stroke-width="1.1" stroke-linejoin="round" clip-path="url(#cp8)"/>
<polyline points="179.6,273.2 183.2,267.6 185,265.4 186.8,263.6 188.5,262.2 190.3,261.2 192.1,260.6 193.9,260.4 195.7,260.6 197.5,261.2 199.3,262.2 201,263.6 202.8,265.4 204.6,267.6 208.2,273.2" fill="none" stroke="#f5cf1b" stroke-width="1.1" stroke-linejoin="round" clip-path="url(#cp8)"/>
<polyline points="179.6,276.7 183.2,270.5 185,268 186.8,266 188.5,264.4 190.3,263.3 192.1,262.6 193.9,262.4 195.7,262.6 197.5,263.3 199.3,264.4 201,266 202.8,268 204.6,270.5 208.2,276.7" fill="none" stroke="#e0191e" stroke-width="1.1" stroke-linejoin="round" clip-path="url(#cp8)"/>
<polyline points="179.6,280.3 183.2,273.1 185,270.3 186.8,268 188.5,266.2 190.3,264.9 192.1,264.2 193.9,263.9 195.7,264.2 197.5,264.9 199.3,266.2 201,268 202.8,270.3 204.6,273.1 208.2,280.3" fill="none" stroke="#e0191e" stroke-width="1.1" stroke-linejoin="round" clip-path="url(#cp8)"/>
<polyline points="179.6,284.3 183.2,275.9 185,272.6 186.8,269.9 188.5,267.8 190.3,266.3 192.1,265.4 193.9,265.1 195.7,265.4 197.5,266.3 199.3,267.8 201,269.9 202.8,272.6 204.6,275.9 208.2,284.3" fill="none" stroke="#f5cf1b" stroke-width="1.1" stroke-linejoin="round" clip-path="url(#cp8)"/>
<line x1="193.9" y1="206.5" x2="193.9" y2="227" stroke="#6ea02e" stroke-width="1.3" stroke-dasharray="2.5,2"/>
<text x="206" y="207.5" font-family="Liberation Serif" font-size="7.5" font-weight="normal" font-style="italic" fill="#6ea02e" text-anchor="middle" dominant-baseline="central" >P = 1</text>
<text x="206.5" y="224.4" font-family="Liberation Serif" font-size="7.5" font-weight="normal" font-style="italic" fill="#6ea02e" text-anchor="middle" dominant-baseline="central" >P = -1</text>
<text x="218.5" y="180" font-family="Liberation Serif" font-size="13" font-weight="bold" font-style="normal" fill="#b5000f" text-anchor="middle" dominant-baseline="central" >(d)</text>
<line x1="263.1" y1="190.3" x2="263.1" y2="326.3" stroke="#e9e9e9" stroke-width="0.8" />
<line x1="291.8" y1="190.3" x2="291.8" y2="326.3" stroke="#e9e9e9" stroke-width="0.8" />
<line x1="234.5" y1="292.3" x2="320.4" y2="292.3" stroke="#e9e9e9" stroke-width="0.8" />
<line x1="234.5" y1="258.3" x2="320.4" y2="258.3" stroke="#e9e9e9" stroke-width="0.8" />
<line x1="234.5" y1="224.3" x2="320.4" y2="224.3" stroke="#e9e9e9" stroke-width="0.8" />
<line x1="263.1" y1="326.3" x2="263.1" y2="324.3" stroke="#777" stroke-width="0.7" />
<line x1="263.1" y1="190.3" x2="263.1" y2="192.3" stroke="#777" stroke-width="0.7" />
<line x1="291.8" y1="326.3" x2="291.8" y2="324.3" stroke="#777" stroke-width="0.7" />
<line x1="291.8" y1="190.3" x2="291.8" y2="192.3" stroke="#777" stroke-width="0.7" />
<line x1="234.5" y1="292.3" x2="236.5" y2="292.3" stroke="#777" stroke-width="0.7" />
<line x1="320.4" y1="292.3" x2="318.4" y2="292.3" stroke="#777" stroke-width="0.7" />
<line x1="234.5" y1="258.3" x2="236.5" y2="258.3" stroke="#777" stroke-width="0.7" />
<line x1="320.4" y1="258.3" x2="318.4" y2="258.3" stroke="#777" stroke-width="0.7" />
<line x1="234.5" y1="224.3" x2="236.5" y2="224.3" stroke="#777" stroke-width="0.7" />
<line x1="320.4" y1="224.3" x2="318.4" y2="224.3" stroke="#777" stroke-width="0.7" />
<text x="232.5" y="326.3" font-family="Liberation Serif" font-size="10" font-weight="normal" font-style="normal" fill="#333" text-anchor="end" dominant-baseline="central" >0</text>
<text x="232.5" y="292.3" font-family="Liberation Serif" font-size="10" font-weight="normal" font-style="normal" fill="#333" text-anchor="end" dominant-baseline="central" >2</text>
<text x="232.5" y="258.3" font-family="Liberation Serif" font-size="10" font-weight="normal" font-style="normal" fill="#333" text-anchor="end" dominant-baseline="central" >4</text>
<text x="232.5" y="224.3" font-family="Liberation Serif" font-size="10" font-weight="normal" font-style="normal" fill="#333" text-anchor="end" dominant-baseline="central" >6</text>
<text x="232.5" y="190.3" font-family="Liberation Serif" font-size="10" font-weight="normal" font-style="normal" fill="#333" text-anchor="end" dominant-baseline="central" >8</text>
<text x="234.5" y="335" font-family="Liberation Serif" font-size="10" font-weight="normal" font-style="normal" fill="#333" text-anchor="middle" dominant-baseline="central" >0</text>
<text x="263.1" y="335" font-family="Liberation Serif" font-size="10" font-weight="normal" font-style="normal" fill="#333" text-anchor="middle" dominant-baseline="central" >0.2</text>
<text x="291.8" y="335" font-family="Liberation Serif" font-size="10" font-weight="normal" font-style="normal" fill="#333" text-anchor="middle" dominant-baseline="central" >0.4</text>
<text x="320.4" y="335" font-family="Liberation Serif" font-size="10" font-weight="normal" font-style="normal" fill="#333" text-anchor="middle" dominant-baseline="central" >0.6</text>
<text x="222.5" y="254" font-family="Liberation Serif" font-size="10.2" font-weight="bold" font-style="italic" fill="#111" text-anchor="middle" dominant-baseline="central" transform="rotate(-90 222.5 254)" >A(ω) (arb.unit)</text>
<text x="279.5" y="345" font-family="Liberation Serif" font-size="10" font-weight="bold" font-style="italic" fill="#111" text-anchor="middle" dominant-baseline="central" >ω (t<tspan font-size="7" dy="2.5">g</tspan><tspan dy="-2.5">)</tspan></text>
<clipPath id="cp9"><rect x="234.5" y="190.3" width="85.9" height="136"/></clipPath>
<path d="M234.5,326.1 C239.3,326.1 260.8,326.5 266.8,326.1 C272.8,325.7 273.2,325 274.8,323.4 C276.4,321.8 276.9,320.6 277.5,315.4 C278.1,310.2 278.5,299.9 278.8,288.6 C279.1,277.3 279.3,249.9 279.5,240 C279.7,230.1 279.9,224.8 280.2,222.5 C280.5,220.2 280.8,222.4 281.2,225 C281.6,227.6 282.3,232.9 282.9,240 C283.5,247.1 284.3,265.2 285.5,272.5 C286.7,279.8 288.8,284.4 290.9,288.6 C293,292.8 296.6,298.1 299.5,300.6 C302.4,303.1 306.9,304.5 310,305.5 C313.1,306.5 318.8,307.1 320.4,307.4" fill="none" stroke="#e0191e" stroke-width="1.7" stroke-linejoin="round" stroke-linecap="round" />
<path d="M234.5,326.1 C236.9,326.1 246.3,326.3 250.7,326.1 C255.1,325.9 261.5,325.9 264.1,324.7 C266.7,323.5 267.2,321.4 268.1,318 C269,314.6 269.5,310.4 270,302 C270.5,293.6 271.2,270.7 271.6,261.8 C272,253 272.3,243 272.7,243 C273.1,243 273.6,255 274.3,261.8 C275,268.6 276,282.2 277.5,288.6 C279,295 282,301 284.2,304.6 C286.4,308.2 290.3,311.5 292.2,312.7 C294.1,313.9 295.7,313.9 296.8,312.7 C297.9,311.5 298.9,310.1 299.5,304.6 C300.1,299.1 300.7,284.7 301.1,276 C301.6,267.3 302,246.7 302.5,246.5 C303,246.3 303.6,273.7 304.3,275 C305.1,276.3 306.8,259.5 307.5,255 C308.2,250.5 308.5,243.8 309.2,244.8 C309.9,245.9 311,257.5 312,262 C313,266.5 314.7,272.1 316,275 C317.3,277.9 319.7,280.4 320.4,281.4" fill="none" stroke="#f5cf1b" stroke-width="1.7" stroke-linejoin="round" stroke-linecap="round" />
<path d="M234.5,326 C236.9,325.8 247.8,325.7 250.7,324.7 C253.6,323.7 253.2,322 253.9,319.4 C254.6,316.8 255,312.1 255.5,307.3 C256,302.5 256.8,288.6 257.4,287.4 C258,286.2 258.5,295.5 259.3,299.3 C260.1,303.1 261.3,309.9 262.8,312.7 C264.3,315.5 266.9,316.7 269.5,318 C272.1,319.3 276.6,320.7 280.2,321.3 C283.8,321.9 291,322.1 293.6,322 C296.2,321.9 296.7,321.7 297.6,320.7 C298.5,319.7 298.9,318.5 299.5,315.4 C300.1,312.3 301.1,306.8 301.5,300 C301.9,293.2 302.2,281.9 302.5,270 C302.8,258.1 302.7,227.9 303.2,221 C303.7,214.1 305,225.7 305.6,224.3 C306.2,223 306.5,215.7 307,212 C307.5,208.3 307.2,194.2 309.2,199.8 C311.2,205.4 318.7,241.6 320.4,249" fill="none" stroke="#6ea02e" stroke-width="1.7" stroke-linejoin="round" stroke-linecap="round" />
<rect x="234.5" y="190.3" width="85.9" height="136" stroke="#999" fill="none" stroke-width="1"/>
<text x="300" y="215.7" font-family="Liberation Serif" font-size="8.8" font-weight="bold" font-style="normal" fill="#6ea02e" text-anchor="middle" dominant-baseline="central" >(G1')</text>
<text x="293.8" y="250.3" font-family="Liberation Serif" font-size="8.8" font-weight="bold" font-style="normal" fill="#f5cf1b" text-anchor="middle" dominant-baseline="central" >(Y1')</text>
<text x="313" y="241" font-family="Liberation Serif" font-size="8.8" font-weight="bold" font-style="normal" fill="#f5cf1b" text-anchor="middle" dominant-baseline="central" >(Y2')</text>
<line x1="367.5" y1="191.4" x2="367.5" y2="326.4" stroke="#e9e9e9" stroke-width="0.8" />
<line x1="386.5" y1="191.4" x2="386.5" y2="326.4" stroke="#e9e9e9" stroke-width="0.8" />
<line x1="405.5" y1="191.4" x2="405.5" y2="326.4" stroke="#e9e9e9" stroke-width="0.8" />
<line x1="348.5" y1="309.5" x2="424.5" y2="309.5" stroke="#e9e9e9" stroke-width="0.8" />
<line x1="348.5" y1="292.6" x2="424.5" y2="292.6" stroke="#e9e9e9" stroke-width="0.8" />
<line x1="348.5" y1="275.8" x2="424.5" y2="275.8" stroke="#e9e9e9" stroke-width="0.8" />
<line x1="348.5" y1="258.9" x2="424.5" y2="258.9" stroke="#e9e9e9" stroke-width="0.8" />
<line x1="348.5" y1="242" x2="424.5" y2="242" stroke="#e9e9e9" stroke-width="0.8" />
<line x1="348.5" y1="225.1" x2="424.5" y2="225.1" stroke="#e9e9e9" stroke-width="0.8" />
<line x1="348.5" y1="208.3" x2="424.5" y2="208.3" stroke="#e9e9e9" stroke-width="0.8" />
<line x1="367.5" y1="326.4" x2="367.5" y2="324.4" stroke="#777" stroke-width="0.7" />
<line x1="367.5" y1="191.4" x2="367.5" y2="193.4" stroke="#777" stroke-width="0.7" />
<line x1="386.5" y1="326.4" x2="386.5" y2="324.4" stroke="#777" stroke-width="0.7" />
<line x1="386.5" y1="191.4" x2="386.5" y2="193.4" stroke="#777" stroke-width="0.7" />
<line x1="405.5" y1="326.4" x2="405.5" y2="324.4" stroke="#777" stroke-width="0.7" />
<line x1="405.5" y1="191.4" x2="405.5" y2="193.4" stroke="#777" stroke-width="0.7" />
<line x1="348.5" y1="309.5" x2="350.5" y2="309.5" stroke="#777" stroke-width="0.7" />
<line x1="424.5" y1="309.5" x2="422.5" y2="309.5" stroke="#777" stroke-width="0.7" />
<line x1="348.5" y1="292.6" x2="350.5" y2="292.6" stroke="#777" stroke-width="0.7" />
<line x1="424.5" y1="292.6" x2="422.5" y2="292.6" stroke="#777" stroke-width="0.7" />
<line x1="348.5" y1="275.8" x2="350.5" y2="275.8" stroke="#777" stroke-width="0.7" />
<line x1="424.5" y1="275.8" x2="422.5" y2="275.8" stroke="#777" stroke-width="0.7" />
<line x1="348.5" y1="258.9" x2="350.5" y2="258.9" stroke="#777" stroke-width="0.7" />
<line x1="424.5" y1="258.9" x2="422.5" y2="258.9" stroke="#777" stroke-width="0.7" />
<line x1="348.5" y1="242" x2="350.5" y2="242" stroke="#777" stroke-width="0.7" />
<line x1="424.5" y1="242" x2="422.5" y2="242" stroke="#777" stroke-width="0.7" />
<line x1="348.5" y1="225.1" x2="350.5" y2="225.1" stroke="#777" stroke-width="0.7" />
<line x1="424.5" y1="225.1" x2="422.5" y2="225.1" stroke="#777" stroke-width="0.7" />
<line x1="348.5" y1="208.3" x2="350.5" y2="208.3" stroke="#777" stroke-width="0.7" />
<line x1="424.5" y1="208.3" x2="422.5" y2="208.3" stroke="#777" stroke-width="0.7" />
<text x="346" y="326.4" font-family="Liberation Serif" font-size="8.3" font-weight="normal" font-style="normal" fill="#333" text-anchor="end" dominant-baseline="central" >-0.4</text>
<text x="346" y="309.5" font-family="Liberation Serif" font-size="8.3" font-weight="normal" font-style="normal" fill="#333" text-anchor="end" dominant-baseline="central" >-0.3</text>
<text x="346" y="292.6" font-family="Liberation Serif" font-size="8.3" font-weight="normal" font-style="normal" fill="#333" text-anchor="end" dominant-baseline="central" >-0.2</text>
<text x="346" y="275.8" font-family="Liberation Serif" font-size="8.3" font-weight="normal" font-style="normal" fill="#333" text-anchor="end" dominant-baseline="central" >-0.1</text>
<text x="346" y="258.9" font-family="Liberation Serif" font-size="8.3" font-weight="normal" font-style="normal" fill="#333" text-anchor="end" dominant-baseline="central" >0</text>
<text x="346" y="242" font-family="Liberation Serif" font-size="8.3" font-weight="normal" font-style="normal" fill="#333" text-anchor="end" dominant-baseline="central" >0.1</text>
<text x="346" y="225.1" font-family="Liberation Serif" font-size="8.3" font-weight="normal" font-style="normal" fill="#333" text-anchor="end" dominant-baseline="central" >0.2</text>
<text x="346" y="208.3" font-family="Liberation Serif" font-size="8.3" font-weight="normal" font-style="normal" fill="#333" text-anchor="end" dominant-baseline="central" >0.3</text>
<text x="346" y="191.4" font-family="Liberation Serif" font-size="8.3" font-weight="normal" font-style="normal" fill="#333" text-anchor="end" dominant-baseline="central" >0.4</text>
<text x="348.5" y="334.9" font-family="Liberation Serif" font-size="9" font-weight="normal" font-style="normal" fill="#333" text-anchor="middle" dominant-baseline="central" >-0.4</text>
<text x="367.5" y="334.9" font-family="Liberation Serif" font-size="9" font-weight="normal" font-style="normal" fill="#333" text-anchor="middle" dominant-baseline="central" >-0.2</text>
<text x="386.5" y="334.9" font-family="Liberation Serif" font-size="9" font-weight="normal" font-style="normal" fill="#333" text-anchor="middle" dominant-baseline="central" >0</text>
<text x="405.5" y="334.9" font-family="Liberation Serif" font-size="9" font-weight="normal" font-style="normal" fill="#333" text-anchor="middle" dominant-baseline="central" >0.2</text>
<text x="424.5" y="334.9" font-family="Liberation Serif" font-size="9" font-weight="normal" font-style="normal" fill="#333" text-anchor="middle" dominant-baseline="central" >0.4</text>
<text x="330" y="259" font-family="Liberation Serif" font-size="9.5" font-weight="bold" font-style="italic" fill="#111" text-anchor="middle" dominant-baseline="central" transform="rotate(-90 330 259)" >E(t<tspan font-size="7" dy="2.5">g</tspan><tspan dy="-2.5">)</tspan></text>
<text x="386.5" y="345.7" font-family="Liberation Serif" font-size="9.5" font-weight="bold" font-style="italic" fill="#111" text-anchor="middle" dominant-baseline="central" >k<tspan font-size="6.5" dy="2.5">x</tspan><tspan dy="-2.5"> a /π</tspan></text>
<clipPath id="cp10"><rect x="348.5" y="191.4" width="76" height="135"/></clipPath>
<polyline points="348.5,180.7 352.8,196.3 357.1,209.2 361.3,219.6 363.7,224.4 366.1,228.6 368.4,232.3 370.8,235.4 373.2,238.1 376.1,240.6 378.4,242.2 381.3,243.6 383.6,244.3 386.5,244.6 389.4,244.3 391.7,243.6 394.6,242.2 396.9,240.6 399.8,238.1 402.2,235.4 404.6,232.3 406.9,228.6 409.3,224.4 411.7,219.6 415.9,209.2 420.2,196.3 424.5,180.7" fill="none" stroke="#6ea02e" stroke-width="1.2" stroke-linejoin="round" clip-path="url(#cp10)"/>
<polyline points="348.5,148.8 352.8,170.8 357.1,188.9 361.3,203.5 363.7,210.3 366.1,216.3 368.4,221.4 370.8,225.8 373.2,229.5 376.1,233.1 378.4,235.3 381.3,237.3 383.6,238.2 386.5,238.6 389.4,238.2 391.7,237.3 394.6,235.3 396.9,233.1 399.8,229.5 402.2,225.8 404.6,221.4 406.9,216.3 409.3,210.3 411.7,203.5 415.9,188.9 420.2,170.8 424.5,148.8" fill="none" stroke="#f5cf1b" stroke-width="1.2" stroke-linejoin="round" clip-path="url(#cp10)"/>
<polyline points="348.5,117.6 352.8,145.2 357.1,167.8 361.3,186.2 363.7,194.7 366.1,202.2 368.4,208.6 370.8,214.1 373.2,218.8 376.1,223.2 378.4,226.1 381.3,228.5 383.6,229.7 385.1,230.1 386.5,230.2 387.9,230.1 389.4,229.7 391.7,228.5 394.6,226.1 396.9,223.2 399.8,218.8 402.2,214.1 404.6,208.6 406.9,202.2 409.3,194.7 411.7,186.2 415.9,167.8 420.2,145.2 424.5,117.6" fill="none" stroke="#e0191e" stroke-width="1.2" stroke-linejoin="round" clip-path="url(#cp10)"/>
<polyline points="348.5,129.8 353.2,149.4 358,166.3 362.8,180.7 365.1,186.9 367.5,192.4 369.9,197.3 372.2,201.6 374.6,205.2 377,208.1 379.4,210.4 381.8,212 384.1,213 386.5,213.3 388.9,213 391.2,212 393.6,210.4 396,208.1 398.4,205.2 400.8,201.6 403.1,197.3 405.5,192.4 407.9,186.9 410.2,180.7 415,166.3 419.8,149.4 424.5,129.8" fill="none" stroke="#6ea02e" stroke-width="1.2" stroke-linejoin="round" clip-path="url(#cp10)"/>
<polyline points="348.5,146.9 353.2,160.8 358,172.8 362.8,183 367.5,191.3 369.9,194.8 372.2,197.8 374.6,200.3 377,202.4 379.4,204 381.8,205.2 384.1,205.9 386.5,206.1 388.9,205.9 391.2,205.2 393.6,204 396,202.4 398.4,200.3 400.8,197.8 403.1,194.8 405.5,191.3 410.2,183 415,172.8 419.8,160.8 424.5,146.9" fill="none" stroke="#e0191e" stroke-width="1.2" stroke-linejoin="round" clip-path="url(#cp10)"/>
<polyline points="348.5,131.3 353.2,147.3 358,161.3 362.8,173.1 367.5,182.7 369.9,186.7 372.2,190.2 374.6,193.1 377,195.6 379.4,197.4 381.8,198.8 384.1,199.6 386.5,199.8 388.9,199.6 391.2,198.8 393.6,197.4 396,195.6 398.4,193.1 400.8,190.2 403.1,186.7 405.5,182.7 410.2,173.1 415,161.3 419.8,147.3 424.5,131.3" fill="none" stroke="#f5cf1b" stroke-width="1.2" stroke-linejoin="round" clip-path="url(#cp10)"/>
<polyline points="348.5,333.1 352.3,317.4 356.1,304.8 358,299.6 360.4,293.8 362.3,289.8 364.6,285.6 367,282 369.4,279 371.8,276.5 374.6,274.2 377.5,272.4 380.3,271.2 383.2,270.5 386.5,270.2 389.8,270.5 392.7,271.2 395.5,272.4 398.4,274.2 401.2,276.5 403.6,279 406,282 408.4,285.6 410.7,289.8 412.6,293.8 415,299.6 416.9,304.8 420.7,317.4 424.5,333.1" fill="none" stroke="#6ea02e" stroke-width="1.2" stroke-linejoin="round" clip-path="url(#cp10)"/>
<polyline points="348.5,359 352.3,338.9 356.1,322.8 358,316.1 360.4,308.8 362.3,303.7 364.6,298.3 367,293.7 369.4,289.8 371.8,286.7 374.6,283.7 377.5,281.5 380.3,280 383.2,279 386.5,278.6 389.8,279 392.7,280 395.5,281.5 398.4,283.7 401.2,286.7 403.6,289.8 406,293.7 408.4,298.3 410.7,303.7 412.6,308.8 415,316.1 416.9,322.8 420.7,338.9 424.5,359" fill="none" stroke="#f5cf1b" stroke-width="1.2" stroke-linejoin="round" clip-path="url(#cp10)"/>
<polyline points="348.5,374 352.3,351 356.1,332.6 358,324.9 360.4,316.5 362.3,310.7 364.6,304.5 367,299.2 369.4,294.8 371.8,291.2 374.6,287.8 377.5,285.3 380.3,283.5 383.2,282.5 386.5,282 389.8,282.5 392.7,283.5 395.5,285.3 398.4,287.8 401.2,291.2 403.6,294.8 406,299.2 408.4,304.5 410.7,310.7 412.6,316.5 415,324.9 416.9,332.6 420.7,351 424.5,374" fill="none" stroke="#e0191e" stroke-width="1.2" stroke-linejoin="round" clip-path="url(#cp10)"/>
<polyline points="348.5,364.4 353.2,349.8 358,337.1 362.8,326.4 367.5,317.7 369.9,314 372.2,310.9 374.6,308.2 377,306 379.4,304.3 381.8,303.1 384.1,302.3 386.5,302.1 388.9,302.3 391.2,303.1 393.6,304.3 396,306 398.4,308.2 400.8,310.9 403.1,314 405.5,317.7 410.2,326.4 415,337.1 419.8,349.8 424.5,364.4" fill="none" stroke="#6ea02e" stroke-width="1.2" stroke-linejoin="round" clip-path="url(#cp10)"/>
<polyline points="348.5,376 353.2,361 358,348.1 362.8,337.1 367.5,328.2 369.9,324.4 372.2,321.2 374.6,318.4 377,316.2 379.4,314.5 381.8,313.2 384.1,312.5 386.5,312.2 388.9,312.5 391.2,313.2 393.6,314.5 396,316.2 398.4,318.4 400.8,321.2 403.1,324.4 405.5,328.2 410.2,337.1 415,348.1 419.8,361 424.5,376" fill="none" stroke="#f5cf1b" stroke-width="1.2" stroke-linejoin="round" clip-path="url(#cp10)"/>
<polyline points="348.5,386.1 353.2,369.4 358,354.9 362.8,342.6 367.5,332.6 369.9,328.4 372.2,324.8 374.6,321.7 377,319.2 379.4,317.3 381.8,315.9 384.1,315 386.5,314.8 388.9,315 391.2,315.9 393.6,317.3 396,319.2 398.4,321.7 400.8,324.8 403.1,328.4 405.5,332.6 410.2,342.6 415,354.9 419.8,369.4 424.5,386.1" fill="none" stroke="#e0191e" stroke-width="1.2" stroke-linejoin="round" clip-path="url(#cp10)"/>
<polyline points="348.5,398.5 353.2,379.3 358,362.7 362.8,348.6 365.1,342.5 367.5,337.1 369.9,332.3 372.2,328.1 374.6,324.6 377,321.7 379.4,319.5 381.8,317.9 384.1,316.9 386.5,316.6 388.9,316.9 391.2,317.9 393.6,319.5 396,321.7 398.4,324.6 400.8,328.1 403.1,332.3 405.5,337.1 407.9,342.5 410.2,348.6 415,362.7 419.8,379.3 424.5,398.5" fill="none" stroke="#e0191e" stroke-width="1.2" stroke-linejoin="round" clip-path="url(#cp10)"/>
<polyline points="348.5,413.7 353.2,391.3 358,371.9 362.8,355.4 365.1,348.4 367.5,342 369.9,336.4 372.2,331.6 374.6,327.5 377,324.1 379.4,321.5 381.8,319.6 384.1,318.5 386.5,318.1 388.9,318.5 391.2,319.6 393.6,321.5 396,324.1 398.4,327.5 400.8,331.6 403.1,336.4 405.5,342 407.9,348.4 410.2,355.4 415,371.9 419.8,391.3 424.5,413.7" fill="none" stroke="#f5cf1b" stroke-width="1.2" stroke-linejoin="round" clip-path="url(#cp10)"/>
<line x1="383.3" y1="202.8" x2="383.3" y2="278.6" stroke="#f5cf1b" stroke-width="1.5" stroke-dasharray="4.5,2.2"/>
<polyline points="380.8,203.8 383.3,200.3 385.8,203.8" fill="none" stroke="#f5cf1b" stroke-width="1.3" stroke-linejoin="round" />
<line x1="386.6" y1="216.3" x2="386.6" y2="270.2" stroke="#6ea02e" stroke-width="1.5" stroke-dasharray="4.5,2.2"/>
<polyline points="384.1,217.3 386.6,213.8 389.1,217.3" fill="none" stroke="#6ea02e" stroke-width="1.3" stroke-linejoin="round" />
<line x1="393" y1="241.6" x2="393" y2="312.2" stroke="#f5cf1b" stroke-width="1.5" stroke-dasharray="4.5,2.2"/>
<polyline points="390.5,242.6 393,239.1 395.5,242.6" fill="none" stroke="#f5cf1b" stroke-width="1.3" stroke-linejoin="round" />
<rect x="348.5" y="191.4" width="76" height="135" stroke="#999" fill="none" stroke-width="1"/>
<text x="377" y="220" font-family="Liberation Serif" font-size="8" font-weight="bold" font-style="normal" fill="#6ea02e" text-anchor="middle" dominant-baseline="central" >(G1')</text>
<text x="373" y="249.7" font-family="Liberation Serif" font-size="8" font-weight="bold" font-style="normal" fill="#f5cf1b" text-anchor="middle" dominant-baseline="central" >(Y1')</text>
<text x="403.5" y="260.6" font-family="Liberation Serif" font-size="8" font-weight="bold" font-style="normal" fill="#f5cf1b" text-anchor="middle" dominant-baseline="central" >(Y2')</text>
<line x1="462.5" y1="191.8" x2="462.5" y2="326" stroke="#e9e9e9" stroke-width="0.8" />
<line x1="435" y1="309.2" x2="490" y2="309.2" stroke="#e9e9e9" stroke-width="0.8" />
<line x1="435" y1="292.4" x2="490" y2="292.4" stroke="#e9e9e9" stroke-width="0.8" />
<line x1="435" y1="275.7" x2="490" y2="275.7" stroke="#e9e9e9" stroke-width="0.8" />
<line x1="435" y1="258.9" x2="490" y2="258.9" stroke="#e9e9e9" stroke-width="0.8" />
<line x1="435" y1="242.1" x2="490" y2="242.1" stroke="#e9e9e9" stroke-width="0.8" />
<line x1="435" y1="225.3" x2="490" y2="225.3" stroke="#e9e9e9" stroke-width="0.8" />
<line x1="435" y1="208.6" x2="490" y2="208.6" stroke="#e9e9e9" stroke-width="0.8" />
<line x1="462.5" y1="326" x2="462.5" y2="324" stroke="#777" stroke-width="0.7" />
<line x1="462.5" y1="191.8" x2="462.5" y2="193.8" stroke="#777" stroke-width="0.7" />
<line x1="435" y1="309.2" x2="437" y2="309.2" stroke="#777" stroke-width="0.7" />
<line x1="490" y1="309.2" x2="488" y2="309.2" stroke="#777" stroke-width="0.7" />
<line x1="435" y1="292.4" x2="437" y2="292.4" stroke="#777" stroke-width="0.7" />
<line x1="490" y1="292.4" x2="488" y2="292.4" stroke="#777" stroke-width="0.7" />
<line x1="435" y1="275.7" x2="437" y2="275.7" stroke="#777" stroke-width="0.7" />
<line x1="490" y1="275.7" x2="488" y2="275.7" stroke="#777" stroke-width="0.7" />
<line x1="435" y1="258.9" x2="437" y2="258.9" stroke="#777" stroke-width="0.7" />
<line x1="490" y1="258.9" x2="488" y2="258.9" stroke="#777" stroke-width="0.7" />
<line x1="435" y1="242.1" x2="437" y2="242.1" stroke="#777" stroke-width="0.7" />
<line x1="490" y1="242.1" x2="488" y2="242.1" stroke="#777" stroke-width="0.7" />
<line x1="435" y1="225.3" x2="437" y2="225.3" stroke="#777" stroke-width="0.7" />
<line x1="490" y1="225.3" x2="488" y2="225.3" stroke="#777" stroke-width="0.7" />
<line x1="435" y1="208.6" x2="437" y2="208.6" stroke="#777" stroke-width="0.7" />
<line x1="490" y1="208.6" x2="488" y2="208.6" stroke="#777" stroke-width="0.7" />
<text x="435" y="333.5" font-family="Liberation Serif" font-size="9.5" font-weight="normal" font-style="normal" fill="#333" text-anchor="middle" dominant-baseline="central" >0</text>
<text x="462.5" y="333.5" font-family="Liberation Serif" font-size="9.5" font-weight="normal" font-style="normal" fill="#333" text-anchor="middle" dominant-baseline="central" >2</text>
<text x="490" y="333.5" font-family="Liberation Serif" font-size="9.5" font-weight="normal" font-style="normal" fill="#333" text-anchor="middle" dominant-baseline="central" >4</text>
<text x="462" y="342.4" font-family="Liberation Serif" font-size="9.5" font-weight="bold" font-style="italic" fill="#111" text-anchor="middle" dominant-baseline="central" >DOS (arb.unit)</text>
<polyline points="453.3,326 454.9,324.4 456.9,322.8 458.8,321.7 461.3,320.6 466.9,319 477.5,317.1 477.4,316.9 475.2,316.6 455,315.5 448.8,315 445.4,314.5 442.6,313.7 441.1,312.8 439.9,311.5 439.2,309.6 438.7,306.1 438.7,300.8 439.2,295.1 440.1,290.6 441.1,287.9 442.2,286 443.6,284.7 446.3,283.1 446.6,282.8 446.6,282.5 444.9,282 439.3,280.9 437.4,280.1 436.6,279.3 436.2,278.5 435.6,275.8 435.3,268 435.2,249.8 435.4,239 435.8,234.2 436.4,232.3 437.5,231.3 439.6,230.4 444.7,229.4 445.2,229.1 445.3,228.8 442.1,226.4 441.1,225.1 440.2,223.2 439.5,220.8 439,217.6 438.9,214.3 439,211.7 439.4,210.3 440.1,209.2 441.1,208.4 442.3,207.9 446,207.1 456.8,206 458.5,205.8 459.1,205.5 458.7,205.2 452.4,203.1 450.4,202 448.8,200.7 447.2,198.8 446,196.6 445,193.9 444.7,191.8" fill="none" stroke="#e0191e" stroke-width="1.45" stroke-linejoin="round" />
<polyline points="447.2,326 448.8,323.9 451.5,321.4 451.4,321.2 449.1,320.1 448.6,319.6 448.5,318.8 449.1,317.7 450.3,316.6 452,315.5 458.1,313.4 458.4,313.1 457.7,312.8 455.8,312.6 445.4,311.5 441.8,310.7 440.6,310.2 439.6,309.4 439,308.3 438.5,306.7 438.2,302.6 438.4,296.2 438.9,290.3 439.8,285.7 440.7,283.1 441.9,281.2 443.3,279.8 446,278 445.8,277.7 445,277.4 440.6,276.6 438,275.8 436.6,274.7 436,273.4 435.5,270.2 435.3,263.7 435.3,251.1 435.6,244.7 436.3,242 436.9,241.2 437.5,240.6 439.5,239.8 445.3,238.8 446.7,238.2 446.2,237.7 443.5,236.1 442.1,234.7 440.9,232.6 439.9,229.6 439,224.3 438.4,217.3 438.2,210.1 438.6,205.5 439.4,203.3 440.5,202 441.9,201.2 444.5,200.4 450.4,199.6 467.9,198.5 471,198.2 472.1,198 471.7,197.7 463.4,196.1 459.5,195 456.3,193.7 453,191.8" fill="none" stroke="#f5cf1b" stroke-width="1.45" stroke-linejoin="round" />
<polyline points="441.9,326 442.7,320.1 443.7,315.3 444.8,311.8 446.3,308.8 447.9,306.7 450,305.1 452,304 457,302.1 456.6,301.8 455.2,301.6 445.4,300.5 441.9,299.7 440.4,298.9 439.6,298.1 439.1,297 438.7,295.4 438.6,291.1 438.9,285.2 439.6,280.1 440.5,276.1 441.5,273.7 442.9,271.8 444.5,270.4 447.3,268.8 447.3,268.6 446.6,268.3 440.5,267.2 438,266.4 437.2,265.9 436.5,265.1 435.8,262.9 435.5,258.6 435.5,252.2 435.9,248.7 436.5,246.8 437.2,246 438.7,245.2 440.6,244.7 446.8,243.6 447.3,243.3 447.3,243.1 446.9,242.8 444.5,241.5 442.9,240.1 441.5,238.2 440.5,235.8 439.6,231.8 438.9,226.7 438.7,221.1 439,217.3 439.4,216 440.1,214.9 441.2,214.1 442.6,213.5 446.9,212.7 454.7,211.9 456.4,211.7 457,211.4 456.8,211.1 452.9,209.8 450.5,208.7 448.6,207.4 446.9,205.5 445.4,202.8 444.2,199.6 443.2,195.3 442.9,191.8" fill="none" stroke="#6ea02e" stroke-width="1.45" stroke-linejoin="round" />
<rect x="435" y="191.8" width="55" height="134.2" stroke="#999" fill="none" stroke-width="1"/>
<text x="502.5" y="181" font-family="Liberation Serif" font-size="13" font-weight="bold" font-style="normal" fill="#b5000f" text-anchor="middle" dominant-baseline="central" >(f)</text>
<line x1="558.9" y1="191" x2="558.9" y2="327.3" stroke="#e4e4e4" stroke-width="0.8" />
<line x1="599.2" y1="191" x2="599.2" y2="327.3" stroke="#e4e4e4" stroke-width="0.8" />
<line x1="639.6" y1="191" x2="639.6" y2="327.3" stroke="#e4e4e4" stroke-width="0.8" />
<line x1="518.5" y1="300" x2="680" y2="300" stroke="#e4e4e4" stroke-width="0.8" />
<line x1="518.5" y1="272.8" x2="680" y2="272.8" stroke="#e4e4e4" stroke-width="0.8" />
<line x1="518.5" y1="245.5" x2="680" y2="245.5" stroke="#e4e4e4" stroke-width="0.8" />
<line x1="518.5" y1="218.3" x2="680" y2="218.3" stroke="#e4e4e4" stroke-width="0.8" />
<line x1="518.5" y1="327.3" x2="518.5" y2="324.8" stroke="#555" stroke-width="0.7" />
<line x1="518.5" y1="191" x2="518.5" y2="193.5" stroke="#555" stroke-width="0.7" />
<line x1="558.9" y1="327.3" x2="558.9" y2="324.8" stroke="#555" stroke-width="0.7" />
<line x1="558.9" y1="191" x2="558.9" y2="193.5" stroke="#555" stroke-width="0.7" />
<line x1="599.2" y1="327.3" x2="599.2" y2="324.8" stroke="#555" stroke-width="0.7" />
<line x1="599.2" y1="191" x2="599.2" y2="193.5" stroke="#555" stroke-width="0.7" />
<line x1="639.6" y1="327.3" x2="639.6" y2="324.8" stroke="#555" stroke-width="0.7" />
<line x1="639.6" y1="191" x2="639.6" y2="193.5" stroke="#555" stroke-width="0.7" />
<line x1="680" y1="327.3" x2="680" y2="324.8" stroke="#555" stroke-width="0.7" />
<line x1="680" y1="191" x2="680" y2="193.5" stroke="#555" stroke-width="0.7" />
<line x1="518.5" y1="300" x2="521" y2="300" stroke="#555" stroke-width="0.7" />
<line x1="680" y1="300" x2="677.5" y2="300" stroke="#555" stroke-width="0.7" />
<line x1="518.5" y1="272.8" x2="521" y2="272.8" stroke="#555" stroke-width="0.7" />
<line x1="680" y1="272.8" x2="677.5" y2="272.8" stroke="#555" stroke-width="0.7" />
<line x1="518.5" y1="245.5" x2="521" y2="245.5" stroke="#555" stroke-width="0.7" />
<line x1="680" y1="245.5" x2="677.5" y2="245.5" stroke="#555" stroke-width="0.7" />
<line x1="518.5" y1="218.3" x2="521" y2="218.3" stroke="#555" stroke-width="0.7" />
<line x1="680" y1="218.3" x2="677.5" y2="218.3" stroke="#555" stroke-width="0.7" />
<text x="516" y="327.3" font-family="Liberation Serif" font-size="7.2" font-weight="normal" font-style="normal" fill="#333" text-anchor="end" dominant-baseline="central" >0.0</text>
<text x="516" y="300" font-family="Liberation Serif" font-size="7.2" font-weight="normal" font-style="normal" fill="#333" text-anchor="end" dominant-baseline="central" >0.1</text>
<text x="516" y="272.8" font-family="Liberation Serif" font-size="7.2" font-weight="normal" font-style="normal" fill="#333" text-anchor="end" dominant-baseline="central" >0.2</text>
<text x="516" y="245.5" font-family="Liberation Serif" font-size="7.2" font-weight="normal" font-style="normal" fill="#333" text-anchor="end" dominant-baseline="central" >0.3</text>
<text x="516" y="218.3" font-family="Liberation Serif" font-size="7.2" font-weight="normal" font-style="normal" fill="#333" text-anchor="end" dominant-baseline="central" >0.4</text>
<text x="516" y="191" font-family="Liberation Serif" font-size="7.2" font-weight="normal" font-style="normal" fill="#333" text-anchor="end" dominant-baseline="central" >0.5</text>
<text x="683" y="327.3" font-family="Liberation Serif" font-size="7.2" font-weight="normal" font-style="normal" fill="#333" text-anchor="start" dominant-baseline="central" >0</text>
<line x1="680" y1="327.3" x2="682" y2="327.3" stroke="#555" stroke-width="0.7" />
<text x="683" y="300" font-family="Liberation Serif" font-size="7.2" font-weight="normal" font-style="normal" fill="#333" text-anchor="start" dominant-baseline="central" >2</text>
<line x1="680" y1="300" x2="682" y2="300" stroke="#555" stroke-width="0.7" />
<text x="683" y="272.8" font-family="Liberation Serif" font-size="7.2" font-weight="normal" font-style="normal" fill="#333" text-anchor="start" dominant-baseline="central" >4</text>
<line x1="680" y1="272.8" x2="682" y2="272.8" stroke="#555" stroke-width="0.7" />
<text x="683" y="245.5" font-family="Liberation Serif" font-size="7.2" font-weight="normal" font-style="normal" fill="#333" text-anchor="start" dominant-baseline="central" >6</text>
<line x1="680" y1="245.5" x2="682" y2="245.5" stroke="#555" stroke-width="0.7" />
<text x="683" y="218.3" font-family="Liberation Serif" font-size="7.2" font-weight="normal" font-style="normal" fill="#333" text-anchor="start" dominant-baseline="central" >8</text>
<line x1="680" y1="218.3" x2="682" y2="218.3" stroke="#555" stroke-width="0.7" />
<text x="683" y="191" font-family="Liberation Serif" font-size="7.2" font-weight="normal" font-style="normal" fill="#333" text-anchor="start" dominant-baseline="central" >10</text>
<line x1="680" y1="191" x2="682" y2="191" stroke="#555" stroke-width="0.7" />
<text x="518.5" y="334.3" font-family="Liberation Serif" font-size="7.2" font-weight="normal" font-style="normal" fill="#333" text-anchor="middle" dominant-baseline="central" >-1.0</text>
<text x="558.9" y="334.3" font-family="Liberation Serif" font-size="7.2" font-weight="normal" font-style="normal" fill="#333" text-anchor="middle" dominant-baseline="central" >-0.5</text>
<text x="599.2" y="334.3" font-family="Liberation Serif" font-size="7.2" font-weight="normal" font-style="normal" fill="#333" text-anchor="middle" dominant-baseline="central" >0.0</text>
<text x="639.6" y="334.3" font-family="Liberation Serif" font-size="7.2" font-weight="normal" font-style="normal" fill="#333" text-anchor="middle" dominant-baseline="central" >0.5</text>
<text x="680" y="334.3" font-family="Liberation Serif" font-size="7.2" font-weight="normal" font-style="normal" fill="#333" text-anchor="middle" dominant-baseline="central" >1.0</text>
<rect x="518.5" y="191" width="161.5" height="136.3" stroke="#b0b0b0" fill="none" stroke-width="1"/>
<line x1="518.5" y1="191" x2="680" y2="191" stroke="#666" stroke-width="1.6" />
<line x1="680" y1="191" x2="680" y2="327.3" stroke="#666" stroke-width="1.6" />
<text x="546" y="203" font-family="Liberation Serif" font-size="12" font-weight="bold" font-style="italic" fill="#111" text-anchor="middle" dominant-baseline="central" >M = 7</text>
<line x1="577.6" y1="196.9" x2="592.5" y2="196.9" stroke="#d2437f" stroke-width="1.1" />
<line x1="577.6" y1="207" x2="592.5" y2="207" stroke="#9552e3" stroke-width="1.8" />
<text x="595.2" y="196.9" font-family="Liberation Serif" font-size="7" font-weight="bold" font-style="italic" fill="#cc0000" text-anchor="start" dominant-baseline="central" >The position of the 1st peaks</text>
<text x="595.2" y="207" font-family="Liberation Serif" font-size="7" font-weight="bold" font-style="italic" fill="#cc0000" text-anchor="start" dominant-baseline="central" >The height of the 1st peaks</text>
<text x="499" y="253.6" font-family="Liberation Serif" font-size="11" font-weight="bold" font-style="italic" fill="#111" text-anchor="middle" dominant-baseline="central" transform="rotate(-90 499 253.6)" >ω (t<tspan font-size="8" dy="2.5">g</tspan><tspan dy="-2.5">)</tspan></text>
<text x="694" y="261" font-family="Liberation Serif" font-size="9.5" font-weight="bold" font-style="italic" fill="#111" text-anchor="middle" dominant-baseline="central" transform="rotate(90 694 261)" >A(ω) (arb.unit)</text>
<text x="599" y="343.3" font-family="Liberation Serif" font-size="9.5" font-weight="bold" font-style="italic" fill="#111" text-anchor="middle" dominant-baseline="central" >V<tspan font-size="6.5" dy="2.5">t</tspan><tspan dy="-2.5"> (V)</tspan></text>
<polyline points="518.4,294.2 522,294.2 531.9,284.3 535.3,284.3 547.4,270.8 551.6,270.8 562.8,256.7 567.1,256.7 576.4,247.5 581.1,246.3 586.8,242.1 612.6,242.3 620.3,246.9 633.7,258.1 640.7,262.4 649.5,271.5 656.6,275.7 663.6,284.5 670.6,287 679.4,294" fill="none" stroke="#d2437f" stroke-width="1.1" stroke-linejoin="round" />
<polyline points="518.4,304.6 526.3,302.6 531.3,306.6 536.1,297 540.3,296.1 547.4,300.4 551.6,284.9 556.7,280.7 563.4,286.3 567.9,262.4 571.3,263.8 575.5,272.2 579.7,242.7 583.5,260 591.4,217.8 599.3,243 607.8,217.8 616.1,260 620.3,242.3 624.9,272.2 632,262.4 636.5,285.6 646,280 651.3,300.4 660.1,295.1 667.1,306.7 674.2,302.1 679.4,303.9" fill="none" stroke="#9552e3" stroke-width="1.25" stroke-linejoin="round" />
</svg>
</body></html>
